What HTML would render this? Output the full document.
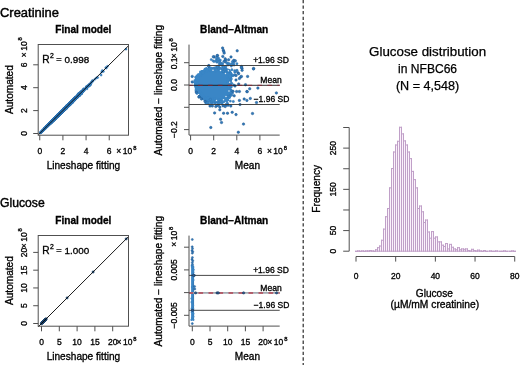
<!DOCTYPE html>
<html><head><meta charset="utf-8"><style>
html,body{margin:0;padding:0;background:#fff;}
svg{display:block;will-change:transform;}
text{font-family:"Liberation Sans", sans-serif;stroke:#000;stroke-width:0.32px;font-variant-ligatures:none;}
</style></head><body>
<svg width="520" height="365" viewBox="0 0 520 365">
<rect width="520" height="365" fill="#fff"/>
<text x="0.00" y="17.20" font-size="12.6" text-anchor="start" font-weight="normal" fill="#000" textLength="59" lengthAdjust="spacingAndGlyphs" style="stroke-width:0.42px">Creatinine</text>
<text x="0.00" y="207.00" font-size="12.6" text-anchor="start" font-weight="normal" fill="#000" textLength="44.7" lengthAdjust="spacingAndGlyphs" style="stroke-width:0.42px">Glucose</text>
<text x="83.40" y="33.00" font-size="10.1" text-anchor="middle" font-weight="bold" fill="#000" >Final model</text>
<text transform="translate(12.90,89.60) rotate(-90)" font-size="10.1" text-anchor="middle" font-weight="normal" fill="#000" >Automated</text>
<text x="83.40" y="168.80" font-size="10.1" text-anchor="middle" font-weight="normal" fill="#000" >Lineshape fitting</text>
<g fill="#3a86c6" stroke="#2566a2" stroke-width="0.3">
<circle cx="62.9" cy="110.8" r="1.1"/>
<circle cx="66.0" cy="108.0" r="1.1"/>
<circle cx="60.1" cy="114.2" r="1.1"/>
<circle cx="53.6" cy="120.3" r="1.1"/>
<circle cx="58.2" cy="115.1" r="1.1"/>
<circle cx="52.6" cy="120.9" r="1.1"/>
<circle cx="63.5" cy="109.9" r="1.1"/>
<circle cx="76.9" cy="97.5" r="1.1"/>
<circle cx="57.8" cy="115.8" r="1.1"/>
<circle cx="56.4" cy="117.1" r="1.1"/>
<circle cx="68.0" cy="106.3" r="1.1"/>
<circle cx="66.6" cy="107.7" r="1.1"/>
<circle cx="64.0" cy="109.3" r="1.1"/>
<circle cx="53.2" cy="120.2" r="1.1"/>
<circle cx="62.6" cy="111.3" r="1.1"/>
<circle cx="70.2" cy="103.5" r="1.1"/>
<circle cx="48.9" cy="124.3" r="1.1"/>
<circle cx="58.1" cy="114.7" r="1.1"/>
<circle cx="43.1" cy="130.3" r="1.1"/>
<circle cx="49.5" cy="123.7" r="1.1"/>
<circle cx="43.7" cy="129.2" r="1.1"/>
<circle cx="60.5" cy="113.0" r="1.1"/>
<circle cx="49.7" cy="123.3" r="1.1"/>
<circle cx="65.7" cy="109.0" r="1.1"/>
<circle cx="64.5" cy="108.3" r="1.1"/>
<circle cx="61.0" cy="112.5" r="1.1"/>
<circle cx="57.3" cy="116.8" r="1.1"/>
<circle cx="62.4" cy="110.8" r="1.1"/>
<circle cx="64.1" cy="109.0" r="1.1"/>
<circle cx="47.0" cy="126.1" r="1.1"/>
<circle cx="57.9" cy="115.1" r="1.1"/>
<circle cx="52.7" cy="120.7" r="1.1"/>
<circle cx="54.5" cy="119.2" r="1.1"/>
<circle cx="74.0" cy="100.0" r="1.1"/>
<circle cx="54.5" cy="118.9" r="1.1"/>
<circle cx="62.6" cy="110.8" r="1.1"/>
<circle cx="72.1" cy="101.8" r="1.1"/>
<circle cx="56.8" cy="116.6" r="1.1"/>
<circle cx="61.7" cy="111.4" r="1.1"/>
<circle cx="64.1" cy="109.3" r="1.1"/>
<circle cx="63.6" cy="109.0" r="1.1"/>
<circle cx="50.1" cy="122.7" r="1.1"/>
<circle cx="63.7" cy="110.3" r="1.1"/>
<circle cx="77.1" cy="97.0" r="1.1"/>
<circle cx="46.8" cy="126.8" r="1.1"/>
<circle cx="71.9" cy="102.4" r="1.1"/>
<circle cx="64.2" cy="109.1" r="1.1"/>
<circle cx="56.2" cy="117.6" r="1.1"/>
<circle cx="83.8" cy="90.8" r="1.1"/>
<circle cx="70.9" cy="102.9" r="1.1"/>
<circle cx="50.4" cy="122.8" r="1.1"/>
<circle cx="63.7" cy="110.0" r="1.1"/>
<circle cx="68.9" cy="104.9" r="1.1"/>
<circle cx="60.9" cy="112.2" r="1.1"/>
<circle cx="70.0" cy="103.3" r="1.1"/>
<circle cx="62.2" cy="111.1" r="1.1"/>
<circle cx="69.9" cy="103.2" r="1.1"/>
<circle cx="77.9" cy="96.4" r="1.1"/>
<circle cx="55.9" cy="117.5" r="1.1"/>
<circle cx="65.0" cy="108.8" r="1.1"/>
<circle cx="58.1" cy="115.0" r="1.1"/>
<circle cx="64.2" cy="108.9" r="1.1"/>
<circle cx="50.5" cy="123.1" r="1.1"/>
<circle cx="56.9" cy="116.1" r="1.1"/>
<circle cx="60.9" cy="113.1" r="1.1"/>
<circle cx="72.3" cy="100.7" r="1.1"/>
<circle cx="74.8" cy="98.7" r="1.1"/>
<circle cx="49.1" cy="124.5" r="1.1"/>
<circle cx="54.6" cy="119.2" r="1.1"/>
<circle cx="69.7" cy="104.1" r="1.1"/>
<circle cx="42.1" cy="131.1" r="1.1"/>
<circle cx="58.1" cy="115.6" r="1.1"/>
<circle cx="61.9" cy="111.4" r="1.1"/>
<circle cx="76.0" cy="98.5" r="1.1"/>
<circle cx="70.1" cy="103.5" r="1.1"/>
<circle cx="59.5" cy="114.0" r="1.1"/>
<circle cx="59.1" cy="115.1" r="1.1"/>
<circle cx="60.3" cy="113.1" r="1.1"/>
<circle cx="78.8" cy="95.7" r="1.1"/>
<circle cx="58.4" cy="115.9" r="1.1"/>
<circle cx="59.7" cy="114.0" r="1.1"/>
<circle cx="66.6" cy="107.1" r="1.1"/>
<circle cx="61.7" cy="111.5" r="1.1"/>
<circle cx="60.9" cy="112.8" r="1.1"/>
<circle cx="51.3" cy="121.7" r="1.1"/>
<circle cx="62.8" cy="110.1" r="1.1"/>
<circle cx="58.3" cy="114.8" r="1.1"/>
<circle cx="75.1" cy="97.8" r="1.1"/>
<circle cx="69.7" cy="103.7" r="1.1"/>
<circle cx="62.7" cy="111.1" r="1.1"/>
<circle cx="69.9" cy="103.4" r="1.1"/>
<circle cx="59.4" cy="113.7" r="1.1"/>
<circle cx="73.9" cy="99.6" r="1.1"/>
<circle cx="62.9" cy="110.8" r="1.1"/>
<circle cx="69.0" cy="105.4" r="1.1"/>
<circle cx="49.5" cy="123.7" r="1.1"/>
<circle cx="66.5" cy="106.9" r="1.1"/>
<circle cx="45.3" cy="128.2" r="1.1"/>
<circle cx="41.7" cy="131.6" r="1.1"/>
<circle cx="59.7" cy="113.5" r="1.1"/>
<circle cx="53.5" cy="119.9" r="1.1"/>
<circle cx="64.6" cy="108.6" r="1.1"/>
<circle cx="86.3" cy="86.9" r="1.1"/>
<circle cx="54.2" cy="119.6" r="1.1"/>
<circle cx="56.4" cy="117.1" r="1.1"/>
<circle cx="65.1" cy="108.3" r="1.1"/>
<circle cx="68.0" cy="105.1" r="1.1"/>
<circle cx="61.1" cy="111.9" r="1.1"/>
<circle cx="60.8" cy="113.5" r="1.1"/>
<circle cx="70.2" cy="103.4" r="1.1"/>
<circle cx="68.3" cy="104.9" r="1.1"/>
<circle cx="52.1" cy="120.9" r="1.1"/>
<circle cx="62.1" cy="110.7" r="1.1"/>
<circle cx="63.3" cy="110.7" r="1.1"/>
<circle cx="51.9" cy="121.6" r="1.1"/>
<circle cx="65.6" cy="108.4" r="1.1"/>
<circle cx="54.0" cy="119.2" r="1.1"/>
<circle cx="73.0" cy="101.4" r="1.1"/>
<circle cx="64.9" cy="108.1" r="1.1"/>
<circle cx="63.8" cy="109.3" r="1.1"/>
<circle cx="56.8" cy="116.5" r="1.1"/>
<circle cx="61.7" cy="112.7" r="1.1"/>
<circle cx="42.1" cy="131.3" r="1.1"/>
<circle cx="51.1" cy="122.1" r="1.1"/>
<circle cx="66.7" cy="107.6" r="1.1"/>
<circle cx="40.7" cy="132.6" r="1.1"/>
<circle cx="71.7" cy="102.0" r="1.1"/>
<circle cx="44.7" cy="128.4" r="1.1"/>
<circle cx="70.8" cy="102.7" r="1.1"/>
<circle cx="54.1" cy="119.2" r="1.1"/>
<circle cx="71.0" cy="102.8" r="1.1"/>
<circle cx="64.3" cy="109.3" r="1.1"/>
<circle cx="46.9" cy="126.5" r="1.1"/>
<circle cx="75.9" cy="97.3" r="1.1"/>
<circle cx="77.9" cy="95.9" r="1.1"/>
<circle cx="62.2" cy="110.9" r="1.1"/>
<circle cx="60.1" cy="114.1" r="1.1"/>
<circle cx="61.2" cy="111.8" r="1.1"/>
<circle cx="52.7" cy="120.7" r="1.1"/>
<circle cx="74.4" cy="98.6" r="1.1"/>
<circle cx="57.3" cy="116.2" r="1.1"/>
<circle cx="62.4" cy="110.8" r="1.1"/>
<circle cx="54.6" cy="118.3" r="1.1"/>
<circle cx="56.4" cy="117.3" r="1.1"/>
<circle cx="49.6" cy="123.8" r="1.1"/>
<circle cx="76.0" cy="97.8" r="1.1"/>
<circle cx="61.3" cy="112.1" r="1.1"/>
<circle cx="73.0" cy="101.6" r="1.1"/>
<circle cx="63.0" cy="110.6" r="1.1"/>
<circle cx="55.7" cy="117.8" r="1.1"/>
<circle cx="59.5" cy="114.3" r="1.1"/>
<circle cx="57.1" cy="116.5" r="1.1"/>
<circle cx="63.0" cy="111.2" r="1.1"/>
<circle cx="59.0" cy="114.0" r="1.1"/>
<circle cx="59.8" cy="113.5" r="1.1"/>
<circle cx="48.5" cy="124.4" r="1.1"/>
<circle cx="54.5" cy="119.2" r="1.1"/>
<circle cx="80.1" cy="94.4" r="1.1"/>
<circle cx="55.9" cy="117.4" r="1.1"/>
<circle cx="51.9" cy="121.9" r="1.1"/>
<circle cx="66.4" cy="107.0" r="1.1"/>
<circle cx="77.6" cy="96.6" r="1.1"/>
<circle cx="47.8" cy="125.7" r="1.1"/>
<circle cx="60.7" cy="112.7" r="1.1"/>
<circle cx="56.3" cy="117.1" r="1.1"/>
<circle cx="44.6" cy="128.4" r="1.1"/>
<circle cx="70.6" cy="102.7" r="1.1"/>
<circle cx="62.7" cy="111.4" r="1.1"/>
<circle cx="63.7" cy="109.4" r="1.1"/>
<circle cx="55.1" cy="118.8" r="1.1"/>
<circle cx="67.6" cy="105.9" r="1.1"/>
<circle cx="57.3" cy="116.6" r="1.1"/>
<circle cx="61.4" cy="112.4" r="1.1"/>
<circle cx="51.4" cy="121.7" r="1.1"/>
<circle cx="50.2" cy="123.3" r="1.1"/>
<circle cx="76.8" cy="97.3" r="1.1"/>
<circle cx="57.6" cy="116.0" r="1.1"/>
<circle cx="65.9" cy="107.8" r="1.1"/>
<circle cx="62.6" cy="110.4" r="1.1"/>
<circle cx="58.3" cy="115.6" r="1.1"/>
<circle cx="57.6" cy="116.3" r="1.1"/>
<circle cx="69.5" cy="103.8" r="1.1"/>
<circle cx="59.8" cy="114.3" r="1.1"/>
<circle cx="61.3" cy="112.3" r="1.1"/>
<circle cx="63.1" cy="109.9" r="1.1"/>
<circle cx="75.2" cy="98.5" r="1.1"/>
<circle cx="70.0" cy="103.9" r="1.1"/>
<circle cx="66.9" cy="107.0" r="1.1"/>
<circle cx="57.0" cy="116.7" r="1.1"/>
<circle cx="48.5" cy="125.0" r="1.1"/>
<circle cx="72.8" cy="100.8" r="1.1"/>
<circle cx="73.0" cy="100.0" r="1.1"/>
<circle cx="61.4" cy="111.7" r="1.1"/>
<circle cx="68.6" cy="105.3" r="1.1"/>
<circle cx="71.1" cy="103.0" r="1.1"/>
<circle cx="71.6" cy="101.7" r="1.1"/>
<circle cx="72.5" cy="102.1" r="1.1"/>
<circle cx="58.2" cy="115.5" r="1.1"/>
<circle cx="78.7" cy="95.2" r="1.1"/>
<circle cx="49.9" cy="123.7" r="1.1"/>
<circle cx="71.9" cy="102.3" r="1.1"/>
<circle cx="68.1" cy="105.4" r="1.1"/>
<circle cx="72.0" cy="102.5" r="1.1"/>
<circle cx="82.5" cy="91.9" r="1.1"/>
<circle cx="78.4" cy="95.8" r="1.1"/>
<circle cx="51.0" cy="122.4" r="1.1"/>
<circle cx="45.3" cy="128.3" r="1.1"/>
<circle cx="71.4" cy="101.6" r="1.1"/>
<circle cx="52.3" cy="121.2" r="1.1"/>
<circle cx="62.8" cy="110.9" r="1.1"/>
<circle cx="71.7" cy="102.2" r="1.1"/>
<circle cx="45.8" cy="127.7" r="1.1"/>
<circle cx="40.9" cy="132.5" r="1.1"/>
<circle cx="65.6" cy="107.4" r="1.1"/>
<circle cx="63.4" cy="110.1" r="1.1"/>
<circle cx="60.3" cy="113.2" r="1.1"/>
<circle cx="63.3" cy="109.8" r="1.1"/>
<circle cx="53.9" cy="119.7" r="1.1"/>
<circle cx="47.1" cy="126.1" r="1.1"/>
<circle cx="61.2" cy="112.3" r="1.1"/>
<circle cx="52.8" cy="120.9" r="1.1"/>
<circle cx="45.8" cy="127.4" r="1.1"/>
<circle cx="68.2" cy="106.2" r="1.1"/>
<circle cx="62.3" cy="111.0" r="1.1"/>
<circle cx="67.1" cy="106.9" r="1.1"/>
<circle cx="52.6" cy="120.7" r="1.1"/>
<circle cx="56.1" cy="116.9" r="1.1"/>
<circle cx="52.5" cy="120.8" r="1.1"/>
<circle cx="53.7" cy="119.9" r="1.1"/>
<circle cx="64.9" cy="108.6" r="1.1"/>
<circle cx="54.7" cy="118.8" r="1.1"/>
<circle cx="66.6" cy="107.5" r="1.1"/>
<circle cx="66.5" cy="107.7" r="1.1"/>
<circle cx="84.0" cy="89.8" r="1.1"/>
<circle cx="48.4" cy="124.8" r="1.1"/>
<circle cx="72.2" cy="102.5" r="1.1"/>
<circle cx="62.0" cy="111.6" r="1.1"/>
<circle cx="62.8" cy="110.6" r="1.1"/>
<circle cx="47.8" cy="125.5" r="1.1"/>
<circle cx="58.1" cy="115.7" r="1.1"/>
<circle cx="70.7" cy="102.4" r="1.1"/>
<circle cx="62.1" cy="112.0" r="1.1"/>
<circle cx="63.8" cy="109.5" r="1.1"/>
<circle cx="59.9" cy="113.0" r="1.1"/>
<circle cx="74.9" cy="100.0" r="1.1"/>
<circle cx="62.7" cy="110.7" r="1.1"/>
<circle cx="55.7" cy="117.7" r="1.1"/>
<circle cx="42.4" cy="130.9" r="1.1"/>
<circle cx="57.4" cy="116.4" r="1.1"/>
<circle cx="76.8" cy="97.1" r="1.1"/>
<circle cx="63.4" cy="110.8" r="1.1"/>
<circle cx="50.7" cy="122.7" r="1.1"/>
<circle cx="53.1" cy="120.2" r="1.1"/>
<circle cx="74.7" cy="99.4" r="1.1"/>
<circle cx="64.6" cy="109.4" r="1.1"/>
<circle cx="63.4" cy="110.4" r="1.1"/>
<circle cx="62.4" cy="111.2" r="1.1"/>
<circle cx="63.3" cy="110.2" r="1.1"/>
<circle cx="71.3" cy="102.4" r="1.1"/>
<circle cx="68.7" cy="104.9" r="1.1"/>
<circle cx="65.2" cy="109.0" r="1.1"/>
<circle cx="52.0" cy="122.1" r="1.1"/>
<circle cx="68.2" cy="105.1" r="1.1"/>
<circle cx="55.8" cy="117.2" r="1.1"/>
<circle cx="74.3" cy="100.2" r="1.1"/>
<circle cx="49.7" cy="123.9" r="1.1"/>
<circle cx="61.5" cy="111.9" r="1.1"/>
<circle cx="62.8" cy="110.3" r="1.1"/>
<circle cx="49.1" cy="124.1" r="1.1"/>
<circle cx="80.9" cy="92.1" r="1.1"/>
<circle cx="78.1" cy="95.6" r="1.1"/>
<circle cx="58.1" cy="115.3" r="1.1"/>
<circle cx="71.0" cy="102.5" r="1.1"/>
<circle cx="66.9" cy="107.0" r="1.1"/>
<circle cx="65.5" cy="107.5" r="1.1"/>
<circle cx="62.3" cy="111.0" r="1.1"/>
<circle cx="63.8" cy="109.4" r="1.1"/>
<circle cx="51.7" cy="121.8" r="1.1"/>
<circle cx="60.1" cy="113.0" r="1.1"/>
<circle cx="61.1" cy="112.9" r="1.1"/>
<circle cx="75.3" cy="98.2" r="1.1"/>
<circle cx="66.4" cy="108.4" r="1.1"/>
<circle cx="62.9" cy="111.1" r="1.1"/>
<circle cx="78.8" cy="94.4" r="1.1"/>
<circle cx="57.1" cy="116.5" r="1.1"/>
<circle cx="58.9" cy="114.6" r="1.1"/>
<circle cx="44.0" cy="129.6" r="1.1"/>
<circle cx="79.3" cy="93.5" r="1.1"/>
<circle cx="73.0" cy="100.4" r="1.1"/>
<circle cx="72.5" cy="101.2" r="1.1"/>
<circle cx="69.9" cy="103.5" r="1.1"/>
<circle cx="64.1" cy="109.4" r="1.1"/>
<circle cx="65.2" cy="107.8" r="1.1"/>
<circle cx="60.3" cy="113.2" r="1.1"/>
<circle cx="60.8" cy="113.3" r="1.1"/>
<circle cx="63.5" cy="110.2" r="1.1"/>
<circle cx="78.7" cy="94.3" r="1.1"/>
<circle cx="68.7" cy="104.6" r="1.1"/>
<circle cx="62.3" cy="111.4" r="1.1"/>
<circle cx="56.9" cy="116.4" r="1.1"/>
<circle cx="56.3" cy="117.1" r="1.1"/>
<circle cx="79.6" cy="93.8" r="1.1"/>
<circle cx="68.2" cy="106.2" r="1.1"/>
<circle cx="63.6" cy="110.3" r="1.1"/>
<circle cx="59.3" cy="114.0" r="1.1"/>
<circle cx="51.4" cy="122.1" r="1.1"/>
<circle cx="62.2" cy="111.2" r="1.1"/>
<circle cx="72.0" cy="100.6" r="1.1"/>
<circle cx="58.8" cy="114.8" r="1.1"/>
<circle cx="60.5" cy="112.9" r="1.1"/>
<circle cx="60.6" cy="113.1" r="1.1"/>
<circle cx="64.1" cy="109.8" r="1.1"/>
<circle cx="46.3" cy="127.1" r="1.1"/>
<circle cx="60.5" cy="113.6" r="1.1"/>
<circle cx="54.0" cy="120.1" r="1.1"/>
<circle cx="72.1" cy="100.8" r="1.1"/>
<circle cx="54.9" cy="118.6" r="1.1"/>
<circle cx="68.9" cy="104.1" r="1.1"/>
<circle cx="78.8" cy="94.9" r="1.1"/>
<circle cx="59.6" cy="113.8" r="1.1"/>
<circle cx="56.6" cy="116.6" r="1.1"/>
<circle cx="64.9" cy="108.3" r="1.1"/>
<circle cx="62.9" cy="111.2" r="1.1"/>
<circle cx="52.6" cy="120.5" r="1.1"/>
<circle cx="67.7" cy="106.4" r="1.1"/>
<circle cx="83.9" cy="89.8" r="1.1"/>
<circle cx="60.2" cy="112.3" r="1.1"/>
<circle cx="60.8" cy="112.7" r="1.1"/>
<circle cx="52.0" cy="120.9" r="1.1"/>
<circle cx="66.2" cy="107.5" r="1.1"/>
<circle cx="49.9" cy="123.3" r="1.1"/>
<circle cx="51.4" cy="122.0" r="1.1"/>
<circle cx="76.2" cy="97.2" r="1.1"/>
<circle cx="53.5" cy="120.2" r="1.1"/>
<circle cx="74.2" cy="100.0" r="1.1"/>
<circle cx="78.8" cy="94.7" r="1.1"/>
<circle cx="65.6" cy="108.7" r="1.1"/>
<circle cx="68.7" cy="105.4" r="1.1"/>
<circle cx="83.3" cy="90.1" r="1.1"/>
<circle cx="60.9" cy="112.9" r="1.1"/>
<circle cx="56.7" cy="117.0" r="1.1"/>
<circle cx="48.8" cy="124.8" r="1.1"/>
<circle cx="63.3" cy="110.2" r="1.1"/>
<circle cx="78.3" cy="95.7" r="1.1"/>
<circle cx="72.9" cy="100.7" r="1.1"/>
<circle cx="53.1" cy="120.4" r="1.1"/>
<circle cx="54.0" cy="118.9" r="1.1"/>
<circle cx="57.7" cy="116.0" r="1.1"/>
<circle cx="66.0" cy="108.5" r="1.1"/>
<circle cx="60.8" cy="112.7" r="1.1"/>
<circle cx="65.1" cy="108.4" r="1.1"/>
<circle cx="66.0" cy="107.5" r="1.1"/>
<circle cx="59.8" cy="114.3" r="1.1"/>
<circle cx="62.5" cy="110.6" r="1.1"/>
<circle cx="65.1" cy="108.5" r="1.1"/>
<circle cx="62.0" cy="111.5" r="1.1"/>
<circle cx="68.2" cy="106.2" r="1.1"/>
<circle cx="82.4" cy="91.1" r="1.1"/>
<circle cx="69.1" cy="104.6" r="1.1"/>
<circle cx="63.5" cy="109.5" r="1.1"/>
<circle cx="45.3" cy="128.1" r="1.1"/>
<circle cx="67.0" cy="107.2" r="1.1"/>
<circle cx="42.6" cy="130.7" r="1.1"/>
<circle cx="48.2" cy="125.3" r="1.1"/>
<circle cx="71.8" cy="101.6" r="1.1"/>
<circle cx="70.3" cy="103.9" r="1.1"/>
<circle cx="61.3" cy="112.2" r="1.1"/>
<circle cx="45.1" cy="128.3" r="1.1"/>
<circle cx="59.0" cy="114.5" r="1.1"/>
<circle cx="55.8" cy="117.8" r="1.1"/>
<circle cx="69.5" cy="104.5" r="1.1"/>
<circle cx="86.4" cy="87.5" r="1.1"/>
<circle cx="65.2" cy="108.7" r="1.1"/>
<circle cx="54.8" cy="118.6" r="1.1"/>
<circle cx="50.7" cy="122.8" r="1.1"/>
<circle cx="62.3" cy="112.2" r="1.1"/>
<circle cx="61.1" cy="112.5" r="1.1"/>
<circle cx="50.9" cy="122.1" r="1.1"/>
<circle cx="64.1" cy="109.3" r="1.1"/>
<circle cx="50.9" cy="122.3" r="1.1"/>
<circle cx="74.5" cy="98.9" r="1.1"/>
<circle cx="74.0" cy="100.0" r="1.1"/>
<circle cx="74.2" cy="100.2" r="1.1"/>
<circle cx="58.0" cy="115.2" r="1.1"/>
<circle cx="68.3" cy="104.8" r="1.1"/>
<circle cx="61.5" cy="111.8" r="1.1"/>
<circle cx="58.9" cy="114.5" r="1.1"/>
<circle cx="59.4" cy="114.0" r="1.1"/>
<circle cx="49.4" cy="124.0" r="1.1"/>
<circle cx="47.9" cy="125.4" r="1.1"/>
<circle cx="71.2" cy="102.5" r="1.1"/>
<circle cx="60.9" cy="112.5" r="1.1"/>
<circle cx="65.2" cy="108.8" r="1.1"/>
<circle cx="73.3" cy="100.7" r="1.1"/>
<circle cx="44.8" cy="128.4" r="1.1"/>
<circle cx="54.7" cy="118.8" r="1.1"/>
<circle cx="64.7" cy="109.9" r="1.1"/>
<circle cx="67.0" cy="106.5" r="1.1"/>
<circle cx="59.0" cy="115.4" r="1.1"/>
<circle cx="73.6" cy="99.0" r="1.1"/>
<circle cx="65.1" cy="108.2" r="1.1"/>
<circle cx="50.3" cy="123.0" r="1.1"/>
<circle cx="53.2" cy="120.4" r="1.1"/>
<circle cx="71.3" cy="103.0" r="1.1"/>
<circle cx="67.7" cy="106.0" r="1.1"/>
<circle cx="43.1" cy="130.2" r="1.1"/>
<circle cx="77.0" cy="97.2" r="1.1"/>
<circle cx="69.1" cy="104.4" r="1.1"/>
<circle cx="76.9" cy="96.4" r="1.1"/>
<circle cx="58.9" cy="114.4" r="1.1"/>
<circle cx="59.8" cy="114.1" r="1.1"/>
<circle cx="51.2" cy="122.8" r="1.1"/>
<circle cx="89.3" cy="84.5" r="1.1"/>
<circle cx="61.1" cy="112.7" r="1.1"/>
<circle cx="79.5" cy="94.0" r="1.1"/>
<circle cx="56.2" cy="116.8" r="1.1"/>
<circle cx="64.6" cy="108.2" r="1.1"/>
<circle cx="45.5" cy="127.8" r="1.1"/>
<circle cx="58.9" cy="114.2" r="1.1"/>
<circle cx="73.2" cy="99.6" r="1.1"/>
<circle cx="49.9" cy="123.5" r="1.1"/>
<circle cx="74.1" cy="99.4" r="1.1"/>
<circle cx="66.4" cy="106.8" r="1.1"/>
<circle cx="52.0" cy="121.4" r="1.1"/>
<circle cx="57.7" cy="116.0" r="1.1"/>
<circle cx="58.1" cy="115.6" r="1.1"/>
<circle cx="62.4" cy="111.1" r="1.1"/>
<circle cx="57.3" cy="116.4" r="1.1"/>
<circle cx="54.3" cy="118.9" r="1.1"/>
<circle cx="59.7" cy="113.9" r="1.1"/>
<circle cx="52.2" cy="120.8" r="1.1"/>
<circle cx="49.5" cy="123.6" r="1.1"/>
<circle cx="62.4" cy="111.6" r="1.1"/>
<circle cx="72.1" cy="101.0" r="1.1"/>
<circle cx="47.0" cy="126.5" r="1.1"/>
<circle cx="62.9" cy="110.0" r="1.1"/>
<circle cx="56.1" cy="117.2" r="1.1"/>
<circle cx="52.7" cy="120.7" r="1.1"/>
<circle cx="71.8" cy="101.5" r="1.1"/>
<circle cx="57.5" cy="116.2" r="1.1"/>
<circle cx="78.5" cy="95.0" r="1.1"/>
<circle cx="54.8" cy="118.5" r="1.1"/>
<circle cx="66.9" cy="106.7" r="1.1"/>
<circle cx="60.5" cy="112.8" r="1.1"/>
<circle cx="55.1" cy="118.7" r="1.1"/>
<circle cx="69.0" cy="104.3" r="1.1"/>
<circle cx="61.3" cy="112.7" r="1.1"/>
<circle cx="69.2" cy="104.1" r="1.1"/>
<circle cx="62.4" cy="110.9" r="1.1"/>
<circle cx="51.6" cy="121.6" r="1.1"/>
<circle cx="61.8" cy="111.9" r="1.1"/>
<circle cx="63.5" cy="108.9" r="1.1"/>
<circle cx="72.9" cy="100.9" r="1.1"/>
<circle cx="53.5" cy="119.9" r="1.1"/>
<circle cx="62.5" cy="111.3" r="1.1"/>
<circle cx="45.0" cy="128.1" r="1.1"/>
<circle cx="69.7" cy="104.2" r="1.1"/>
<circle cx="51.6" cy="121.5" r="1.1"/>
<circle cx="44.1" cy="129.4" r="1.1"/>
<circle cx="62.3" cy="111.1" r="1.1"/>
<circle cx="74.4" cy="99.5" r="1.1"/>
<circle cx="47.0" cy="126.1" r="1.1"/>
<circle cx="51.6" cy="121.9" r="1.1"/>
<circle cx="55.2" cy="118.5" r="1.1"/>
<circle cx="51.1" cy="122.1" r="1.1"/>
<circle cx="66.9" cy="107.3" r="1.1"/>
<circle cx="54.5" cy="119.2" r="1.1"/>
<circle cx="55.4" cy="117.8" r="1.1"/>
<circle cx="69.0" cy="105.5" r="1.1"/>
<circle cx="55.0" cy="118.2" r="1.1"/>
<circle cx="67.4" cy="106.4" r="1.1"/>
<circle cx="52.8" cy="120.9" r="1.1"/>
<circle cx="50.3" cy="123.0" r="1.1"/>
<circle cx="43.8" cy="129.4" r="1.1"/>
<circle cx="82.3" cy="91.8" r="1.1"/>
<circle cx="59.6" cy="114.0" r="1.1"/>
<circle cx="65.5" cy="107.8" r="1.1"/>
<circle cx="62.6" cy="110.6" r="1.1"/>
<circle cx="64.6" cy="109.0" r="1.1"/>
<circle cx="63.4" cy="110.4" r="1.1"/>
<circle cx="82.8" cy="91.6" r="1.1"/>
<circle cx="52.1" cy="121.5" r="1.1"/>
<circle cx="46.7" cy="126.5" r="1.1"/>
<circle cx="52.4" cy="120.9" r="1.1"/>
<circle cx="49.0" cy="124.3" r="1.1"/>
<circle cx="70.7" cy="102.2" r="1.1"/>
<circle cx="71.5" cy="102.3" r="1.1"/>
<circle cx="52.9" cy="120.6" r="1.1"/>
<circle cx="48.4" cy="125.0" r="1.1"/>
<circle cx="59.2" cy="113.6" r="1.1"/>
<circle cx="77.4" cy="97.5" r="1.1"/>
<circle cx="68.4" cy="105.1" r="1.1"/>
<circle cx="51.7" cy="121.6" r="1.1"/>
<circle cx="73.8" cy="99.9" r="1.1"/>
<circle cx="51.7" cy="121.1" r="1.1"/>
<circle cx="59.9" cy="113.1" r="1.1"/>
<circle cx="47.2" cy="126.0" r="1.1"/>
<circle cx="52.7" cy="120.9" r="1.1"/>
<circle cx="77.4" cy="96.0" r="1.1"/>
<circle cx="71.5" cy="102.4" r="1.1"/>
<circle cx="58.7" cy="114.7" r="1.1"/>
<circle cx="53.8" cy="119.5" r="1.1"/>
<circle cx="43.2" cy="130.2" r="1.1"/>
<circle cx="58.8" cy="114.4" r="1.1"/>
<circle cx="62.6" cy="110.3" r="1.1"/>
<circle cx="62.0" cy="111.1" r="1.1"/>
<circle cx="61.9" cy="111.5" r="1.1"/>
<circle cx="51.2" cy="122.7" r="1.1"/>
<circle cx="62.2" cy="110.9" r="1.1"/>
<circle cx="62.5" cy="110.6" r="1.1"/>
<circle cx="76.4" cy="97.4" r="1.1"/>
<circle cx="82.4" cy="91.7" r="1.1"/>
<circle cx="61.5" cy="111.8" r="1.1"/>
<circle cx="54.9" cy="118.8" r="1.1"/>
<circle cx="62.2" cy="111.0" r="1.1"/>
<circle cx="56.6" cy="117.2" r="1.1"/>
<circle cx="55.2" cy="118.5" r="1.1"/>
<circle cx="62.3" cy="111.2" r="1.1"/>
<circle cx="52.0" cy="121.7" r="1.1"/>
<circle cx="69.2" cy="104.4" r="1.1"/>
<circle cx="61.8" cy="111.5" r="1.1"/>
<circle cx="65.5" cy="108.6" r="1.1"/>
<circle cx="61.0" cy="112.1" r="1.1"/>
<circle cx="55.3" cy="118.3" r="1.1"/>
<circle cx="53.0" cy="120.2" r="1.1"/>
<circle cx="60.4" cy="113.0" r="1.1"/>
<circle cx="57.2" cy="116.4" r="1.1"/>
<circle cx="65.3" cy="108.4" r="1.1"/>
<circle cx="62.9" cy="111.3" r="1.1"/>
<circle cx="48.7" cy="124.8" r="1.1"/>
<circle cx="63.6" cy="110.2" r="1.1"/>
<circle cx="48.9" cy="124.1" r="1.1"/>
<circle cx="56.5" cy="116.6" r="1.1"/>
<circle cx="59.8" cy="114.1" r="1.1"/>
<circle cx="41.3" cy="131.9" r="1.1"/>
<circle cx="63.9" cy="109.6" r="1.1"/>
<circle cx="64.5" cy="109.2" r="1.1"/>
<circle cx="61.3" cy="112.1" r="1.1"/>
<circle cx="58.5" cy="114.7" r="1.1"/>
<circle cx="59.0" cy="114.7" r="1.1"/>
<circle cx="52.7" cy="120.7" r="1.1"/>
<circle cx="60.1" cy="113.3" r="1.1"/>
<circle cx="57.2" cy="116.6" r="1.1"/>
<circle cx="63.9" cy="109.6" r="1.1"/>
<circle cx="50.4" cy="123.0" r="1.1"/>
<circle cx="65.4" cy="108.5" r="1.1"/>
<circle cx="64.4" cy="109.5" r="1.1"/>
<circle cx="61.4" cy="111.9" r="1.1"/>
<circle cx="58.3" cy="114.8" r="1.1"/>
<circle cx="68.7" cy="104.8" r="1.1"/>
<circle cx="45.6" cy="127.9" r="1.1"/>
<circle cx="67.7" cy="105.5" r="1.1"/>
<circle cx="65.4" cy="108.0" r="1.1"/>
<circle cx="65.9" cy="107.4" r="1.1"/>
<circle cx="66.9" cy="106.1" r="1.1"/>
<circle cx="56.1" cy="117.6" r="1.1"/>
<circle cx="60.2" cy="113.3" r="1.1"/>
<circle cx="69.5" cy="104.3" r="1.1"/>
<circle cx="67.4" cy="106.6" r="1.1"/>
<circle cx="65.1" cy="107.6" r="1.1"/>
<circle cx="47.1" cy="126.0" r="1.1"/>
<circle cx="68.5" cy="105.9" r="1.1"/>
<circle cx="75.1" cy="98.3" r="1.1"/>
<circle cx="73.4" cy="100.5" r="1.1"/>
<circle cx="65.3" cy="107.7" r="1.1"/>
<circle cx="46.7" cy="126.6" r="1.1"/>
<circle cx="72.7" cy="101.0" r="1.1"/>
<circle cx="61.4" cy="112.1" r="1.1"/>
<circle cx="66.8" cy="106.5" r="1.1"/>
<circle cx="47.4" cy="126.0" r="1.1"/>
<circle cx="49.4" cy="124.0" r="1.1"/>
<circle cx="56.3" cy="117.2" r="1.1"/>
<circle cx="76.2" cy="97.2" r="1.1"/>
<circle cx="59.0" cy="114.8" r="1.1"/>
<circle cx="65.7" cy="107.8" r="1.1"/>
<circle cx="81.1" cy="92.7" r="1.1"/>
<circle cx="79.5" cy="94.5" r="1.1"/>
<circle cx="61.8" cy="111.4" r="1.1"/>
<circle cx="60.4" cy="113.6" r="1.1"/>
<circle cx="49.8" cy="123.7" r="1.1"/>
<circle cx="55.7" cy="118.0" r="1.1"/>
<circle cx="67.3" cy="106.0" r="1.1"/>
<circle cx="67.0" cy="106.7" r="1.1"/>
<circle cx="64.1" cy="109.4" r="1.1"/>
<circle cx="73.3" cy="100.1" r="1.1"/>
<circle cx="54.9" cy="119.0" r="1.1"/>
<circle cx="62.3" cy="111.0" r="1.1"/>
<circle cx="70.5" cy="103.4" r="1.1"/>
<circle cx="69.0" cy="104.7" r="1.1"/>
<circle cx="74.1" cy="99.6" r="1.1"/>
<circle cx="67.0" cy="106.1" r="1.1"/>
<circle cx="59.7" cy="113.5" r="1.1"/>
<circle cx="66.7" cy="106.1" r="1.1"/>
<circle cx="52.5" cy="120.9" r="1.1"/>
<circle cx="45.8" cy="127.6" r="1.1"/>
<circle cx="69.0" cy="104.9" r="1.1"/>
<circle cx="62.3" cy="110.9" r="1.1"/>
<circle cx="66.1" cy="106.7" r="1.1"/>
<circle cx="45.2" cy="128.0" r="1.1"/>
<circle cx="59.1" cy="114.6" r="1.1"/>
<circle cx="56.7" cy="116.7" r="1.1"/>
<circle cx="53.9" cy="119.4" r="1.1"/>
<circle cx="59.4" cy="114.0" r="1.1"/>
<circle cx="72.3" cy="101.7" r="1.1"/>
<circle cx="66.9" cy="107.8" r="1.1"/>
<circle cx="56.6" cy="117.0" r="1.1"/>
<circle cx="62.8" cy="110.3" r="1.1"/>
<circle cx="70.8" cy="102.7" r="1.1"/>
<circle cx="61.6" cy="112.7" r="1.1"/>
<circle cx="68.6" cy="105.0" r="1.1"/>
<circle cx="70.0" cy="104.5" r="1.1"/>
<circle cx="80.6" cy="91.8" r="1.1"/>
<circle cx="74.7" cy="98.8" r="1.1"/>
<circle cx="66.2" cy="107.9" r="1.1"/>
<circle cx="66.1" cy="107.1" r="1.1"/>
<circle cx="71.1" cy="102.9" r="1.1"/>
<circle cx="57.3" cy="116.0" r="1.1"/>
<circle cx="62.5" cy="111.0" r="1.1"/>
<circle cx="72.4" cy="101.9" r="1.1"/>
<circle cx="83.3" cy="90.0" r="1.1"/>
<circle cx="61.3" cy="112.8" r="1.1"/>
<circle cx="62.4" cy="110.6" r="1.1"/>
<circle cx="65.0" cy="108.5" r="1.1"/>
<circle cx="76.9" cy="97.4" r="1.1"/>
<circle cx="62.6" cy="111.6" r="1.1"/>
<circle cx="78.2" cy="94.5" r="1.1"/>
<circle cx="52.8" cy="120.2" r="1.1"/>
<circle cx="61.0" cy="113.0" r="1.1"/>
<circle cx="60.8" cy="112.0" r="1.1"/>
<circle cx="71.1" cy="102.4" r="1.1"/>
<circle cx="73.8" cy="99.9" r="1.1"/>
<circle cx="47.2" cy="126.2" r="1.1"/>
<circle cx="53.4" cy="120.1" r="1.1"/>
<circle cx="66.4" cy="106.5" r="1.1"/>
<circle cx="56.0" cy="117.3" r="1.1"/>
<circle cx="47.0" cy="126.7" r="1.1"/>
<circle cx="73.7" cy="98.8" r="1.1"/>
<circle cx="68.1" cy="105.1" r="1.1"/>
<circle cx="68.0" cy="106.0" r="1.1"/>
<circle cx="58.0" cy="115.6" r="1.1"/>
<circle cx="73.6" cy="100.5" r="1.1"/>
<circle cx="60.4" cy="113.1" r="1.1"/>
<circle cx="74.3" cy="99.1" r="1.1"/>
<circle cx="53.4" cy="119.9" r="1.1"/>
<circle cx="54.0" cy="119.6" r="1.1"/>
<circle cx="65.0" cy="108.8" r="1.1"/>
<circle cx="55.6" cy="117.6" r="1.1"/>
<circle cx="69.9" cy="103.7" r="1.1"/>
<circle cx="65.6" cy="106.9" r="1.1"/>
<circle cx="53.3" cy="120.3" r="1.1"/>
<circle cx="63.7" cy="109.5" r="1.1"/>
<circle cx="59.2" cy="114.2" r="1.1"/>
<circle cx="72.5" cy="101.6" r="1.1"/>
<circle cx="56.3" cy="116.7" r="1.1"/>
<circle cx="58.3" cy="115.1" r="1.1"/>
<circle cx="75.5" cy="98.6" r="1.1"/>
<circle cx="86.2" cy="87.8" r="1.1"/>
<circle cx="83.7" cy="89.3" r="1.1"/>
<circle cx="63.6" cy="110.5" r="1.1"/>
<circle cx="65.2" cy="107.7" r="1.1"/>
<circle cx="78.9" cy="94.4" r="1.1"/>
<circle cx="61.6" cy="112.0" r="1.1"/>
<circle cx="52.7" cy="120.3" r="1.1"/>
<circle cx="64.1" cy="108.7" r="1.1"/>
<circle cx="67.6" cy="105.7" r="1.1"/>
<circle cx="54.3" cy="119.1" r="1.1"/>
<circle cx="45.8" cy="127.2" r="1.1"/>
<circle cx="47.9" cy="125.1" r="1.1"/>
<circle cx="69.8" cy="104.2" r="1.1"/>
<circle cx="55.0" cy="118.5" r="1.1"/>
<circle cx="61.4" cy="112.1" r="1.1"/>
<circle cx="65.1" cy="108.6" r="1.1"/>
<circle cx="69.4" cy="105.0" r="1.1"/>
<circle cx="59.4" cy="113.7" r="1.1"/>
<circle cx="68.1" cy="105.4" r="1.1"/>
<circle cx="53.6" cy="119.7" r="1.1"/>
<circle cx="59.1" cy="113.8" r="1.1"/>
<circle cx="52.2" cy="121.3" r="1.1"/>
<circle cx="74.7" cy="99.0" r="1.1"/>
<circle cx="62.6" cy="110.8" r="1.1"/>
<circle cx="55.2" cy="118.4" r="1.1"/>
<circle cx="59.2" cy="114.3" r="1.1"/>
<circle cx="60.6" cy="112.6" r="1.1"/>
<circle cx="70.2" cy="103.4" r="1.1"/>
<circle cx="46.3" cy="126.8" r="1.1"/>
<circle cx="52.1" cy="121.5" r="1.1"/>
<circle cx="59.0" cy="114.4" r="1.1"/>
<circle cx="89.3" cy="85.6" r="1.1"/>
<circle cx="72.9" cy="100.8" r="1.1"/>
<circle cx="61.7" cy="112.0" r="1.1"/>
<circle cx="70.3" cy="102.6" r="1.1"/>
<circle cx="84.4" cy="88.9" r="1.1"/>
<circle cx="60.5" cy="112.8" r="1.1"/>
<circle cx="59.1" cy="113.7" r="1.1"/>
<circle cx="75.5" cy="97.3" r="1.1"/>
<circle cx="68.1" cy="105.2" r="1.1"/>
<circle cx="69.9" cy="104.0" r="1.1"/>
<circle cx="57.6" cy="116.3" r="1.1"/>
<circle cx="83.0" cy="90.8" r="1.1"/>
<circle cx="80.7" cy="93.2" r="1.1"/>
<circle cx="68.8" cy="105.1" r="1.1"/>
<circle cx="70.0" cy="103.7" r="1.1"/>
<circle cx="41.8" cy="131.7" r="1.1"/>
<circle cx="69.6" cy="103.3" r="1.1"/>
<circle cx="60.9" cy="113.0" r="1.1"/>
<circle cx="67.4" cy="106.4" r="1.1"/>
<circle cx="70.0" cy="103.3" r="1.1"/>
<circle cx="59.4" cy="114.7" r="1.1"/>
<circle cx="45.3" cy="127.9" r="1.1"/>
<circle cx="66.7" cy="106.4" r="1.1"/>
<circle cx="55.2" cy="118.3" r="1.1"/>
<circle cx="59.5" cy="114.4" r="1.1"/>
<circle cx="56.6" cy="117.0" r="1.1"/>
<circle cx="59.4" cy="114.8" r="1.1"/>
<circle cx="75.6" cy="97.3" r="1.1"/>
<circle cx="65.6" cy="108.0" r="1.1"/>
<circle cx="74.5" cy="99.6" r="1.1"/>
<circle cx="83.5" cy="90.8" r="1.1"/>
<circle cx="63.1" cy="110.1" r="1.1"/>
<circle cx="44.1" cy="128.9" r="1.1"/>
<circle cx="53.6" cy="120.2" r="1.1"/>
<circle cx="50.3" cy="123.2" r="1.1"/>
<circle cx="57.7" cy="116.4" r="1.1"/>
<circle cx="63.7" cy="109.5" r="1.1"/>
<circle cx="42.0" cy="131.2" r="1.1"/>
<circle cx="66.5" cy="106.0" r="1.1"/>
<circle cx="47.2" cy="126.2" r="1.1"/>
<circle cx="66.0" cy="107.7" r="1.1"/>
<circle cx="61.8" cy="112.0" r="1.1"/>
<circle cx="59.6" cy="113.5" r="1.1"/>
<circle cx="62.1" cy="112.0" r="1.1"/>
<circle cx="57.3" cy="115.9" r="1.1"/>
<circle cx="56.5" cy="116.8" r="1.1"/>
<circle cx="45.4" cy="128.0" r="1.1"/>
<circle cx="62.6" cy="111.3" r="1.1"/>
<circle cx="82.1" cy="90.9" r="1.1"/>
<circle cx="83.6" cy="88.9" r="1.1"/>
<circle cx="76.7" cy="97.2" r="1.1"/>
<circle cx="70.3" cy="103.1" r="1.1"/>
<circle cx="55.9" cy="117.0" r="1.1"/>
<circle cx="77.9" cy="96.1" r="1.1"/>
<circle cx="62.3" cy="111.3" r="1.1"/>
<circle cx="62.2" cy="111.8" r="1.1"/>
<circle cx="59.9" cy="113.7" r="1.1"/>
<circle cx="63.9" cy="109.7" r="1.1"/>
<circle cx="58.4" cy="115.2" r="1.1"/>
<circle cx="62.0" cy="111.8" r="1.1"/>
<circle cx="51.6" cy="122.2" r="1.1"/>
<circle cx="59.0" cy="114.9" r="1.1"/>
<circle cx="86.7" cy="87.8" r="1.1"/>
<circle cx="62.2" cy="111.1" r="1.1"/>
<circle cx="60.4" cy="113.3" r="1.1"/>
<circle cx="68.5" cy="105.5" r="1.1"/>
<circle cx="70.3" cy="103.0" r="1.1"/>
<circle cx="51.3" cy="121.9" r="1.1"/>
<circle cx="60.8" cy="113.0" r="1.1"/>
<circle cx="72.5" cy="101.5" r="1.1"/>
<circle cx="65.7" cy="107.5" r="1.1"/>
<circle cx="64.2" cy="109.2" r="1.1"/>
<circle cx="79.1" cy="95.1" r="1.1"/>
<circle cx="55.8" cy="117.5" r="1.1"/>
<circle cx="63.8" cy="109.8" r="1.1"/>
<circle cx="57.5" cy="115.6" r="1.1"/>
<circle cx="78.4" cy="95.8" r="1.1"/>
<circle cx="42.6" cy="130.6" r="1.1"/>
<circle cx="55.9" cy="117.4" r="1.1"/>
<circle cx="57.4" cy="116.4" r="1.1"/>
<circle cx="69.8" cy="103.2" r="1.1"/>
<circle cx="69.2" cy="103.9" r="1.1"/>
<circle cx="77.5" cy="97.0" r="1.1"/>
<circle cx="46.5" cy="126.4" r="1.1"/>
<circle cx="70.7" cy="103.5" r="1.1"/>
<circle cx="59.9" cy="114.0" r="1.1"/>
<circle cx="56.0" cy="117.6" r="1.1"/>
<circle cx="68.5" cy="104.7" r="1.1"/>
<circle cx="53.3" cy="119.9" r="1.1"/>
<circle cx="41.3" cy="132.0" r="1.1"/>
<circle cx="59.1" cy="113.9" r="1.1"/>
<circle cx="47.3" cy="125.9" r="1.1"/>
<circle cx="56.1" cy="116.8" r="1.1"/>
<circle cx="66.8" cy="105.5" r="1.1"/>
<circle cx="66.2" cy="107.3" r="1.1"/>
<circle cx="79.4" cy="95.9" r="1.1"/>
<circle cx="60.8" cy="112.8" r="1.1"/>
<circle cx="46.9" cy="126.6" r="1.1"/>
<circle cx="55.0" cy="118.4" r="1.1"/>
<circle cx="53.3" cy="120.0" r="1.1"/>
<circle cx="50.2" cy="123.5" r="1.1"/>
<circle cx="67.4" cy="106.7" r="1.1"/>
<circle cx="56.2" cy="117.3" r="1.1"/>
<circle cx="42.3" cy="131.0" r="1.1"/>
<circle cx="70.2" cy="104.8" r="1.1"/>
<circle cx="61.7" cy="111.4" r="1.1"/>
<circle cx="66.6" cy="106.9" r="1.1"/>
<circle cx="64.0" cy="109.5" r="1.1"/>
<circle cx="69.5" cy="103.9" r="1.1"/>
<circle cx="63.3" cy="110.6" r="1.1"/>
<circle cx="75.8" cy="97.9" r="1.1"/>
<circle cx="67.3" cy="105.7" r="1.1"/>
<circle cx="67.0" cy="106.0" r="1.1"/>
<circle cx="67.2" cy="106.2" r="1.1"/>
<circle cx="47.7" cy="125.7" r="1.1"/>
<circle cx="61.2" cy="112.6" r="1.1"/>
<circle cx="60.2" cy="112.8" r="1.1"/>
<circle cx="65.1" cy="108.2" r="1.1"/>
<circle cx="48.7" cy="124.7" r="1.1"/>
<circle cx="79.9" cy="95.2" r="1.1"/>
<circle cx="64.0" cy="109.9" r="1.1"/>
<circle cx="50.3" cy="123.6" r="1.1"/>
<circle cx="45.1" cy="128.0" r="1.1"/>
<circle cx="60.0" cy="113.4" r="1.1"/>
<circle cx="62.0" cy="111.8" r="1.1"/>
<circle cx="55.4" cy="118.1" r="1.1"/>
<circle cx="63.9" cy="108.5" r="1.1"/>
<circle cx="56.2" cy="116.8" r="1.1"/>
<circle cx="68.7" cy="105.6" r="1.1"/>
<circle cx="55.4" cy="118.1" r="1.1"/>
<circle cx="62.5" cy="111.5" r="1.1"/>
<circle cx="73.1" cy="101.5" r="1.1"/>
<circle cx="89.7" cy="84.0" r="1.1"/>
<circle cx="52.4" cy="120.3" r="1.1"/>
<circle cx="58.1" cy="114.8" r="1.1"/>
<circle cx="54.2" cy="119.2" r="1.1"/>
<circle cx="71.1" cy="102.7" r="1.1"/>
<circle cx="50.9" cy="122.4" r="1.1"/>
<circle cx="57.9" cy="115.2" r="1.1"/>
<circle cx="62.6" cy="111.5" r="1.1"/>
<circle cx="52.7" cy="121.2" r="1.1"/>
<circle cx="52.9" cy="119.9" r="1.1"/>
<circle cx="58.0" cy="115.4" r="1.1"/>
<circle cx="41.0" cy="132.0" r="1.1"/>
<circle cx="47.8" cy="125.4" r="1.1"/>
<circle cx="58.6" cy="114.3" r="1.1"/>
<circle cx="64.5" cy="109.3" r="1.1"/>
<circle cx="61.0" cy="112.3" r="1.1"/>
<circle cx="44.4" cy="128.6" r="1.1"/>
<circle cx="58.1" cy="115.0" r="1.1"/>
<circle cx="71.2" cy="102.6" r="1.1"/>
<circle cx="68.7" cy="104.4" r="1.1"/>
<circle cx="62.1" cy="111.7" r="1.1"/>
<circle cx="53.7" cy="120.2" r="1.1"/>
<circle cx="69.5" cy="103.8" r="1.1"/>
<circle cx="56.9" cy="116.1" r="1.1"/>
<circle cx="50.7" cy="122.4" r="1.1"/>
<circle cx="54.5" cy="119.3" r="1.1"/>
<circle cx="78.0" cy="95.1" r="1.1"/>
<circle cx="65.2" cy="108.0" r="1.1"/>
<circle cx="75.0" cy="98.9" r="1.1"/>
<circle cx="57.9" cy="116.4" r="1.1"/>
<circle cx="72.7" cy="100.4" r="1.1"/>
<circle cx="56.6" cy="116.5" r="1.1"/>
<circle cx="61.3" cy="112.0" r="1.1"/>
<circle cx="88.8" cy="86.3" r="1.1"/>
<circle cx="70.9" cy="103.5" r="1.1"/>
<circle cx="57.7" cy="115.4" r="1.1"/>
<circle cx="62.0" cy="111.1" r="1.1"/>
<circle cx="66.3" cy="107.0" r="1.1"/>
<circle cx="75.5" cy="98.3" r="1.1"/>
<circle cx="57.8" cy="115.5" r="1.1"/>
<circle cx="44.8" cy="128.6" r="1.1"/>
<circle cx="60.0" cy="113.6" r="1.1"/>
<circle cx="63.1" cy="110.8" r="1.1"/>
<circle cx="64.1" cy="109.4" r="1.1"/>
<circle cx="76.6" cy="97.3" r="1.1"/>
<circle cx="66.2" cy="106.9" r="1.1"/>
<circle cx="71.4" cy="101.8" r="1.1"/>
<circle cx="51.4" cy="122.2" r="1.1"/>
<circle cx="72.0" cy="100.6" r="1.1"/>
<circle cx="84.8" cy="89.8" r="1.1"/>
<circle cx="71.0" cy="102.4" r="1.1"/>
<circle cx="65.6" cy="107.5" r="1.1"/>
<circle cx="64.5" cy="108.4" r="1.1"/>
<circle cx="81.5" cy="93.7" r="1.1"/>
<circle cx="53.2" cy="119.9" r="1.1"/>
<circle cx="61.8" cy="111.2" r="1.1"/>
<circle cx="67.7" cy="105.1" r="1.1"/>
<circle cx="70.7" cy="104.1" r="1.1"/>
<circle cx="58.4" cy="115.4" r="1.1"/>
<circle cx="66.1" cy="107.5" r="1.1"/>
<circle cx="60.0" cy="113.6" r="1.1"/>
<circle cx="64.2" cy="108.8" r="1.1"/>
<circle cx="61.5" cy="112.2" r="1.1"/>
<circle cx="51.0" cy="122.0" r="1.1"/>
<circle cx="62.7" cy="110.6" r="1.1"/>
<circle cx="72.1" cy="102.4" r="1.1"/>
<circle cx="52.8" cy="120.9" r="1.1"/>
<circle cx="60.4" cy="113.3" r="1.1"/>
<circle cx="69.8" cy="103.7" r="1.1"/>
<circle cx="51.8" cy="121.3" r="1.1"/>
<circle cx="64.8" cy="108.8" r="1.1"/>
<circle cx="51.9" cy="121.3" r="1.1"/>
<circle cx="74.7" cy="99.8" r="1.1"/>
<circle cx="87.0" cy="88.8" r="1.1"/>
<circle cx="84.0" cy="90.0" r="1.1"/>
<circle cx="60.6" cy="112.7" r="1.1"/>
<circle cx="70.6" cy="103.2" r="1.1"/>
<circle cx="64.2" cy="109.8" r="1.1"/>
<circle cx="64.0" cy="109.4" r="1.1"/>
<circle cx="79.0" cy="93.4" r="1.1"/>
<circle cx="49.2" cy="124.2" r="1.1"/>
<circle cx="73.9" cy="100.2" r="1.1"/>
<circle cx="62.4" cy="111.5" r="1.1"/>
<circle cx="77.6" cy="94.8" r="1.1"/>
<circle cx="64.9" cy="108.7" r="1.1"/>
<circle cx="55.9" cy="117.3" r="1.1"/>
<circle cx="65.8" cy="107.2" r="1.1"/>
<circle cx="70.6" cy="102.4" r="1.1"/>
<circle cx="63.3" cy="110.6" r="1.1"/>
<circle cx="68.0" cy="105.1" r="1.1"/>
<circle cx="57.5" cy="115.7" r="1.1"/>
<circle cx="40.7" cy="132.5" r="1.1"/>
<circle cx="72.3" cy="100.8" r="1.1"/>
<circle cx="70.2" cy="103.7" r="1.1"/>
<circle cx="64.5" cy="109.1" r="1.1"/>
<circle cx="63.6" cy="110.1" r="1.1"/>
<circle cx="73.7" cy="99.5" r="1.1"/>
<circle cx="58.1" cy="115.6" r="1.1"/>
<circle cx="55.5" cy="117.7" r="1.1"/>
<circle cx="60.9" cy="113.0" r="1.1"/>
<circle cx="75.3" cy="98.4" r="1.1"/>
<circle cx="48.5" cy="125.0" r="1.1"/>
<circle cx="75.3" cy="98.4" r="1.1"/>
<circle cx="56.2" cy="117.1" r="1.1"/>
<circle cx="51.4" cy="122.0" r="1.1"/>
<circle cx="76.0" cy="97.8" r="1.1"/>
<circle cx="61.9" cy="112.5" r="1.1"/>
<circle cx="49.4" cy="123.7" r="1.1"/>
<circle cx="59.2" cy="114.5" r="1.1"/>
<circle cx="72.6" cy="101.1" r="1.1"/>
<circle cx="75.3" cy="98.8" r="1.1"/>
<circle cx="58.5" cy="114.6" r="1.1"/>
<circle cx="67.1" cy="106.9" r="1.1"/>
<circle cx="70.4" cy="103.0" r="1.1"/>
<circle cx="56.2" cy="116.8" r="1.1"/>
<circle cx="66.6" cy="106.1" r="1.1"/>
<circle cx="62.6" cy="110.4" r="1.1"/>
<circle cx="57.3" cy="115.9" r="1.1"/>
<circle cx="57.8" cy="116.1" r="1.1"/>
<circle cx="63.6" cy="109.3" r="1.1"/>
<circle cx="63.2" cy="109.8" r="1.1"/>
<circle cx="57.0" cy="116.1" r="1.1"/>
<circle cx="58.5" cy="114.7" r="1.1"/>
<circle cx="74.5" cy="99.1" r="1.1"/>
<circle cx="65.1" cy="108.6" r="1.1"/>
<circle cx="72.1" cy="100.9" r="1.1"/>
<circle cx="75.4" cy="97.4" r="1.1"/>
<circle cx="69.0" cy="105.1" r="1.1"/>
<circle cx="86.6" cy="86.5" r="1.1"/>
<circle cx="54.3" cy="119.0" r="1.1"/>
<circle cx="71.3" cy="101.8" r="1.1"/>
<circle cx="59.6" cy="113.8" r="1.1"/>
<circle cx="82.3" cy="90.7" r="1.1"/>
<circle cx="80.6" cy="92.4" r="1.1"/>
<circle cx="42.5" cy="130.6" r="1.1"/>
<circle cx="52.8" cy="121.0" r="1.1"/>
<circle cx="69.8" cy="103.3" r="1.1"/>
<circle cx="71.1" cy="102.4" r="1.1"/>
<circle cx="70.6" cy="103.6" r="1.1"/>
<circle cx="62.2" cy="111.0" r="1.1"/>
<circle cx="67.7" cy="106.6" r="1.1"/>
<circle cx="69.7" cy="103.4" r="1.1"/>
<circle cx="62.1" cy="110.7" r="1.1"/>
<circle cx="73.6" cy="100.3" r="1.1"/>
<circle cx="69.5" cy="103.6" r="1.1"/>
<circle cx="52.1" cy="121.1" r="1.1"/>
<circle cx="72.9" cy="100.3" r="1.1"/>
<circle cx="60.5" cy="113.5" r="1.1"/>
<circle cx="53.6" cy="119.6" r="1.1"/>
<circle cx="66.8" cy="106.7" r="1.1"/>
<circle cx="53.4" cy="119.8" r="1.1"/>
<circle cx="53.4" cy="120.0" r="1.1"/>
<circle cx="46.6" cy="126.5" r="1.1"/>
<circle cx="62.6" cy="110.7" r="1.1"/>
<circle cx="68.1" cy="105.1" r="1.1"/>
<circle cx="73.6" cy="99.3" r="1.1"/>
<circle cx="61.4" cy="112.0" r="1.1"/>
<circle cx="73.8" cy="99.2" r="1.1"/>
<circle cx="63.1" cy="110.3" r="1.1"/>
<circle cx="61.9" cy="111.3" r="1.1"/>
<circle cx="68.9" cy="104.9" r="1.1"/>
<circle cx="73.9" cy="99.2" r="1.1"/>
<circle cx="59.4" cy="113.6" r="1.1"/>
<circle cx="60.4" cy="113.1" r="1.1"/>
<circle cx="61.2" cy="111.9" r="1.1"/>
<circle cx="63.8" cy="109.5" r="1.1"/>
<circle cx="53.5" cy="120.2" r="1.1"/>
<circle cx="73.6" cy="99.8" r="1.1"/>
<circle cx="58.7" cy="114.2" r="1.1"/>
<circle cx="67.7" cy="106.1" r="1.1"/>
<circle cx="54.3" cy="119.7" r="1.1"/>
<circle cx="66.6" cy="106.8" r="1.1"/>
<circle cx="67.0" cy="106.9" r="1.1"/>
<circle cx="58.5" cy="114.2" r="1.1"/>
<circle cx="84.0" cy="89.8" r="1.1"/>
<circle cx="66.8" cy="106.8" r="1.1"/>
<circle cx="81.4" cy="92.7" r="1.1"/>
<circle cx="72.9" cy="100.6" r="1.1"/>
<circle cx="56.0" cy="117.6" r="1.1"/>
<circle cx="58.9" cy="114.9" r="1.1"/>
<circle cx="67.5" cy="106.1" r="1.1"/>
<circle cx="63.5" cy="110.3" r="1.1"/>
<circle cx="63.4" cy="109.5" r="1.1"/>
<circle cx="59.9" cy="114.0" r="1.1"/>
<circle cx="44.1" cy="129.2" r="1.1"/>
<circle cx="60.6" cy="113.2" r="1.1"/>
<circle cx="66.8" cy="107.4" r="1.1"/>
<circle cx="55.3" cy="117.5" r="1.1"/>
<circle cx="55.5" cy="118.6" r="1.1"/>
<circle cx="60.6" cy="112.3" r="1.1"/>
<circle cx="65.8" cy="108.4" r="1.1"/>
<circle cx="48.0" cy="125.3" r="1.1"/>
<circle cx="44.7" cy="128.2" r="1.1"/>
<circle cx="51.8" cy="122.2" r="1.1"/>
<circle cx="41.6" cy="131.8" r="1.1"/>
<circle cx="52.8" cy="120.2" r="1.1"/>
<circle cx="79.5" cy="94.1" r="1.1"/>
<circle cx="51.9" cy="121.6" r="1.1"/>
<circle cx="69.7" cy="103.9" r="1.1"/>
<circle cx="48.6" cy="125.0" r="1.1"/>
<circle cx="66.0" cy="107.4" r="1.1"/>
<circle cx="59.6" cy="113.3" r="1.1"/>
<circle cx="62.3" cy="111.4" r="1.1"/>
<circle cx="68.8" cy="104.6" r="1.1"/>
<circle cx="81.2" cy="91.7" r="1.1"/>
<circle cx="64.9" cy="107.7" r="1.1"/>
<circle cx="64.2" cy="109.6" r="1.1"/>
<circle cx="52.8" cy="120.5" r="1.1"/>
<circle cx="69.0" cy="104.9" r="1.1"/>
<circle cx="60.3" cy="113.4" r="1.1"/>
<circle cx="71.6" cy="102.2" r="1.1"/>
<circle cx="62.5" cy="111.3" r="1.1"/>
<circle cx="81.1" cy="93.8" r="1.1"/>
<circle cx="42.2" cy="131.3" r="1.1"/>
<circle cx="59.8" cy="113.9" r="1.1"/>
<circle cx="72.1" cy="101.4" r="1.1"/>
<circle cx="59.3" cy="113.7" r="1.1"/>
<circle cx="54.7" cy="118.9" r="1.1"/>
<circle cx="60.1" cy="113.4" r="1.1"/>
<circle cx="48.5" cy="124.7" r="1.1"/>
<circle cx="64.1" cy="109.0" r="1.1"/>
<circle cx="88.3" cy="85.5" r="1.1"/>
<circle cx="74.8" cy="98.8" r="1.1"/>
<circle cx="51.4" cy="121.5" r="1.1"/>
<circle cx="53.8" cy="119.7" r="1.1"/>
<circle cx="58.7" cy="114.9" r="1.1"/>
<circle cx="73.4" cy="101.2" r="1.1"/>
<circle cx="54.3" cy="118.9" r="1.1"/>
<circle cx="55.7" cy="117.8" r="1.1"/>
<circle cx="72.1" cy="100.4" r="1.1"/>
<circle cx="71.9" cy="101.9" r="1.1"/>
<circle cx="59.0" cy="114.1" r="1.1"/>
<circle cx="51.3" cy="121.9" r="1.1"/>
<circle cx="46.8" cy="126.2" r="1.1"/>
<circle cx="55.6" cy="118.2" r="1.1"/>
<circle cx="70.7" cy="102.0" r="1.1"/>
<circle cx="56.3" cy="117.1" r="1.1"/>
<circle cx="67.9" cy="105.7" r="1.1"/>
<circle cx="82.4" cy="91.5" r="1.1"/>
<circle cx="75.1" cy="98.7" r="1.1"/>
<circle cx="50.9" cy="122.5" r="1.1"/>
<circle cx="72.0" cy="102.9" r="1.1"/>
<circle cx="75.0" cy="98.3" r="1.1"/>
<circle cx="55.1" cy="118.3" r="1.1"/>
<circle cx="53.0" cy="120.7" r="1.1"/>
<circle cx="61.8" cy="111.7" r="1.1"/>
<circle cx="46.2" cy="126.6" r="1.1"/>
<circle cx="78.2" cy="95.2" r="1.1"/>
<circle cx="51.4" cy="122.1" r="1.1"/>
<circle cx="60.1" cy="112.7" r="1.1"/>
<circle cx="60.5" cy="113.2" r="1.1"/>
<circle cx="64.6" cy="108.9" r="1.1"/>
<circle cx="65.7" cy="108.0" r="1.1"/>
<circle cx="60.7" cy="112.9" r="1.1"/>
<circle cx="74.8" cy="98.4" r="1.1"/>
<circle cx="40.6" cy="132.6" r="1.1"/>
<circle cx="62.9" cy="110.9" r="1.1"/>
<circle cx="55.5" cy="118.0" r="1.1"/>
<circle cx="64.3" cy="109.2" r="1.1"/>
<circle cx="65.2" cy="108.5" r="1.1"/>
<circle cx="53.4" cy="120.0" r="1.1"/>
<circle cx="56.2" cy="117.4" r="1.1"/>
<circle cx="71.2" cy="102.8" r="1.1"/>
<circle cx="66.5" cy="107.0" r="1.1"/>
<circle cx="55.8" cy="117.9" r="1.1"/>
<circle cx="84.2" cy="89.3" r="1.1"/>
<circle cx="87.0" cy="86.9" r="1.1"/>
<circle cx="47.7" cy="125.9" r="1.1"/>
<circle cx="66.1" cy="107.8" r="1.1"/>
<circle cx="89.1" cy="85.1" r="1.1"/>
<circle cx="71.1" cy="102.6" r="1.1"/>
<circle cx="65.2" cy="108.3" r="1.1"/>
<circle cx="60.7" cy="112.8" r="1.1"/>
<circle cx="57.3" cy="116.5" r="1.1"/>
<circle cx="60.7" cy="112.2" r="1.1"/>
<circle cx="57.2" cy="116.0" r="1.1"/>
<circle cx="70.7" cy="102.8" r="1.1"/>
<circle cx="58.8" cy="114.3" r="1.1"/>
<circle cx="58.3" cy="115.0" r="1.1"/>
<circle cx="50.4" cy="123.0" r="1.1"/>
<circle cx="62.4" cy="111.1" r="1.1"/>
<circle cx="53.6" cy="119.0" r="1.1"/>
<circle cx="61.0" cy="112.1" r="1.1"/>
<circle cx="73.8" cy="99.3" r="1.1"/>
<circle cx="66.7" cy="107.0" r="1.1"/>
<circle cx="68.2" cy="105.1" r="1.1"/>
<circle cx="66.6" cy="105.8" r="1.1"/>
<circle cx="63.5" cy="109.8" r="1.1"/>
<circle cx="61.6" cy="111.5" r="1.1"/>
<circle cx="59.7" cy="113.3" r="1.1"/>
<circle cx="70.8" cy="102.4" r="1.1"/>
<circle cx="51.6" cy="121.3" r="1.1"/>
<circle cx="76.9" cy="96.6" r="1.1"/>
<circle cx="63.3" cy="110.0" r="1.1"/>
<circle cx="55.1" cy="118.5" r="1.1"/>
<circle cx="57.8" cy="114.7" r="1.1"/>
<circle cx="55.9" cy="117.5" r="1.1"/>
<circle cx="64.6" cy="108.9" r="1.1"/>
<circle cx="55.4" cy="117.5" r="1.1"/>
<circle cx="74.8" cy="99.1" r="1.1"/>
<circle cx="54.8" cy="118.6" r="1.1"/>
<circle cx="55.3" cy="118.4" r="1.1"/>
<circle cx="42.0" cy="131.3" r="1.1"/>
<circle cx="62.5" cy="111.2" r="1.1"/>
<circle cx="73.9" cy="99.4" r="1.1"/>
<circle cx="69.7" cy="104.0" r="1.1"/>
<circle cx="49.0" cy="124.5" r="1.1"/>
<circle cx="55.0" cy="118.5" r="1.1"/>
<circle cx="81.4" cy="92.3" r="1.1"/>
<circle cx="66.2" cy="107.5" r="1.1"/>
<circle cx="63.0" cy="110.1" r="1.1"/>
<circle cx="73.9" cy="99.3" r="1.1"/>
<circle cx="88.5" cy="85.2" r="1.1"/>
<circle cx="76.4" cy="97.9" r="1.1"/>
<circle cx="64.4" cy="108.9" r="1.1"/>
<circle cx="66.6" cy="107.5" r="1.1"/>
<circle cx="69.3" cy="104.1" r="1.1"/>
<circle cx="56.5" cy="116.9" r="1.1"/>
<circle cx="51.9" cy="121.7" r="1.1"/>
<circle cx="63.5" cy="110.4" r="1.1"/>
<circle cx="53.0" cy="120.6" r="1.1"/>
<circle cx="62.3" cy="110.4" r="1.1"/>
<circle cx="63.9" cy="109.7" r="1.1"/>
<circle cx="87.3" cy="86.6" r="1.1"/>
<circle cx="54.0" cy="119.1" r="1.1"/>
<circle cx="61.6" cy="111.7" r="1.1"/>
<circle cx="61.2" cy="111.9" r="1.1"/>
<circle cx="67.5" cy="106.7" r="1.1"/>
<circle cx="73.8" cy="100.4" r="1.1"/>
<circle cx="57.8" cy="114.7" r="1.1"/>
<circle cx="54.3" cy="119.1" r="1.1"/>
<circle cx="45.8" cy="127.6" r="1.1"/>
<circle cx="53.3" cy="120.1" r="1.1"/>
<circle cx="68.5" cy="104.6" r="1.1"/>
<circle cx="63.4" cy="110.6" r="1.1"/>
<circle cx="52.3" cy="121.0" r="1.1"/>
<circle cx="59.0" cy="114.4" r="1.1"/>
<circle cx="63.2" cy="110.0" r="1.1"/>
<circle cx="68.2" cy="105.3" r="1.1"/>
<circle cx="56.7" cy="116.9" r="1.1"/>
<circle cx="60.3" cy="113.5" r="1.1"/>
<circle cx="44.0" cy="129.7" r="1.1"/>
<circle cx="50.9" cy="122.2" r="1.1"/>
<circle cx="79.8" cy="94.9" r="1.1"/>
<circle cx="59.4" cy="114.2" r="1.1"/>
<circle cx="65.2" cy="107.6" r="1.1"/>
<circle cx="59.0" cy="114.6" r="1.1"/>
<circle cx="54.5" cy="118.7" r="1.1"/>
<circle cx="62.3" cy="111.3" r="1.1"/>
<circle cx="62.9" cy="110.3" r="1.1"/>
<circle cx="62.1" cy="111.4" r="1.1"/>
<circle cx="43.3" cy="130.0" r="1.1"/>
<circle cx="61.4" cy="111.6" r="1.1"/>
<circle cx="54.0" cy="119.5" r="1.1"/>
<circle cx="57.2" cy="116.7" r="1.1"/>
<circle cx="65.3" cy="108.4" r="1.1"/>
<circle cx="69.6" cy="103.7" r="1.1"/>
<circle cx="72.3" cy="101.9" r="1.1"/>
<circle cx="57.7" cy="115.4" r="1.1"/>
<circle cx="72.5" cy="100.6" r="1.1"/>
<circle cx="75.1" cy="97.3" r="1.1"/>
<circle cx="74.8" cy="99.2" r="1.1"/>
<circle cx="77.4" cy="95.9" r="1.1"/>
<circle cx="61.4" cy="112.8" r="1.1"/>
<circle cx="61.1" cy="112.5" r="1.1"/>
<circle cx="71.5" cy="102.0" r="1.1"/>
<circle cx="48.7" cy="124.6" r="1.1"/>
<circle cx="65.1" cy="108.5" r="1.1"/>
<circle cx="57.4" cy="116.1" r="1.1"/>
<circle cx="59.1" cy="114.6" r="1.1"/>
<circle cx="44.8" cy="128.6" r="1.1"/>
<circle cx="53.6" cy="119.7" r="1.1"/>
<circle cx="62.7" cy="110.6" r="1.1"/>
<circle cx="72.2" cy="101.1" r="1.1"/>
<circle cx="73.2" cy="99.8" r="1.1"/>
<circle cx="62.1" cy="110.9" r="1.1"/>
<circle cx="60.9" cy="113.2" r="1.1"/>
<circle cx="54.3" cy="119.3" r="1.1"/>
<circle cx="67.1" cy="106.5" r="1.1"/>
<circle cx="60.3" cy="113.4" r="1.1"/>
<circle cx="69.2" cy="103.8" r="1.1"/>
<circle cx="81.2" cy="92.0" r="1.1"/>
<circle cx="62.6" cy="111.0" r="1.1"/>
<circle cx="47.3" cy="126.0" r="1.1"/>
<circle cx="53.9" cy="119.1" r="1.1"/>
<circle cx="47.7" cy="125.7" r="1.1"/>
<circle cx="50.4" cy="123.0" r="1.1"/>
<circle cx="76.5" cy="96.6" r="1.1"/>
<circle cx="65.3" cy="108.0" r="1.1"/>
<circle cx="47.1" cy="126.0" r="1.1"/>
<circle cx="69.7" cy="103.7" r="1.1"/>
<circle cx="76.0" cy="97.2" r="1.1"/>
<circle cx="59.2" cy="114.5" r="1.1"/>
<circle cx="55.9" cy="117.9" r="1.1"/>
<circle cx="59.4" cy="114.1" r="1.1"/>
<circle cx="65.9" cy="108.9" r="1.1"/>
<circle cx="69.6" cy="103.8" r="1.1"/>
<circle cx="75.2" cy="97.8" r="1.1"/>
<circle cx="75.5" cy="98.0" r="1.1"/>
<circle cx="75.3" cy="98.5" r="1.1"/>
<circle cx="77.1" cy="95.9" r="1.1"/>
<circle cx="69.8" cy="103.8" r="1.1"/>
<circle cx="47.0" cy="126.2" r="1.1"/>
<circle cx="61.5" cy="111.1" r="1.1"/>
<circle cx="66.2" cy="107.0" r="1.1"/>
<circle cx="58.9" cy="114.2" r="1.1"/>
<circle cx="72.4" cy="100.9" r="1.1"/>
<circle cx="59.2" cy="114.2" r="1.1"/>
<circle cx="53.3" cy="120.1" r="1.1"/>
<circle cx="78.0" cy="95.7" r="1.1"/>
<circle cx="69.9" cy="103.2" r="1.1"/>
<circle cx="65.2" cy="109.0" r="1.1"/>
<circle cx="72.6" cy="101.2" r="1.1"/>
<circle cx="74.0" cy="99.3" r="1.1"/>
<circle cx="66.5" cy="107.5" r="1.1"/>
<circle cx="55.9" cy="117.6" r="1.1"/>
<circle cx="58.2" cy="115.5" r="1.1"/>
<circle cx="52.7" cy="120.6" r="1.1"/>
<circle cx="65.0" cy="108.2" r="1.1"/>
<circle cx="75.3" cy="97.5" r="1.1"/>
<circle cx="57.9" cy="115.4" r="1.1"/>
<circle cx="51.1" cy="122.5" r="1.1"/>
<circle cx="84.0" cy="89.5" r="1.1"/>
<circle cx="58.2" cy="115.0" r="1.1"/>
<circle cx="50.1" cy="123.0" r="1.1"/>
<circle cx="65.4" cy="109.1" r="1.1"/>
<circle cx="67.3" cy="106.0" r="1.1"/>
<circle cx="55.6" cy="118.4" r="1.1"/>
<circle cx="71.1" cy="102.1" r="1.1"/>
<circle cx="57.8" cy="115.5" r="1.1"/>
<circle cx="53.3" cy="120.0" r="1.1"/>
<circle cx="64.8" cy="108.4" r="1.1"/>
<circle cx="70.9" cy="102.4" r="1.1"/>
<circle cx="56.3" cy="117.3" r="1.1"/>
<circle cx="66.4" cy="107.0" r="1.1"/>
<circle cx="61.9" cy="111.1" r="1.1"/>
<circle cx="92.3" cy="81.6" r="1.1"/>
<circle cx="55.5" cy="117.9" r="1.1"/>
<circle cx="77.3" cy="97.1" r="1.1"/>
<circle cx="62.4" cy="110.7" r="1.1"/>
<circle cx="61.6" cy="112.1" r="1.1"/>
<circle cx="70.4" cy="103.5" r="1.1"/>
<circle cx="72.2" cy="101.6" r="1.1"/>
<circle cx="76.1" cy="98.0" r="1.1"/>
<circle cx="66.3" cy="107.3" r="1.1"/>
<circle cx="56.7" cy="116.4" r="1.1"/>
<circle cx="57.3" cy="115.9" r="1.1"/>
<circle cx="68.2" cy="104.6" r="1.1"/>
<circle cx="69.0" cy="103.9" r="1.1"/>
<circle cx="77.5" cy="96.7" r="1.1"/>
<circle cx="67.3" cy="106.0" r="1.1"/>
<circle cx="74.0" cy="98.8" r="1.1"/>
<circle cx="78.7" cy="93.5" r="1.1"/>
<circle cx="64.6" cy="109.5" r="1.1"/>
<circle cx="47.4" cy="126.2" r="1.1"/>
<circle cx="50.6" cy="122.6" r="1.1"/>
<circle cx="47.9" cy="125.5" r="1.1"/>
<circle cx="79.5" cy="94.8" r="1.1"/>
<circle cx="54.1" cy="119.2" r="1.1"/>
<circle cx="75.7" cy="98.4" r="1.1"/>
<circle cx="69.0" cy="105.7" r="1.1"/>
<circle cx="80.8" cy="92.9" r="1.1"/>
<circle cx="73.4" cy="100.2" r="1.1"/>
<circle cx="61.8" cy="111.4" r="1.1"/>
<circle cx="60.8" cy="112.3" r="1.1"/>
<circle cx="63.8" cy="109.6" r="1.1"/>
<circle cx="64.7" cy="108.9" r="1.1"/>
<circle cx="57.4" cy="116.3" r="1.1"/>
<circle cx="62.6" cy="111.6" r="1.1"/>
<circle cx="79.7" cy="94.3" r="1.1"/>
<circle cx="45.2" cy="128.0" r="1.1"/>
<circle cx="65.6" cy="107.6" r="1.1"/>
<circle cx="53.5" cy="119.3" r="1.1"/>
<circle cx="64.9" cy="108.7" r="1.1"/>
<circle cx="71.7" cy="102.9" r="1.1"/>
<circle cx="62.3" cy="110.8" r="1.1"/>
<circle cx="71.0" cy="102.1" r="1.1"/>
<circle cx="46.3" cy="127.2" r="1.1"/>
<circle cx="74.4" cy="100.1" r="1.1"/>
<circle cx="56.6" cy="116.8" r="1.1"/>
<circle cx="69.4" cy="103.8" r="1.1"/>
<circle cx="64.8" cy="109.2" r="1.1"/>
<circle cx="55.0" cy="118.5" r="1.1"/>
<circle cx="65.2" cy="108.7" r="1.1"/>
<circle cx="79.1" cy="95.3" r="1.1"/>
<circle cx="65.9" cy="108.2" r="1.1"/>
<circle cx="65.6" cy="107.9" r="1.1"/>
<circle cx="48.2" cy="125.2" r="1.1"/>
<circle cx="77.8" cy="96.3" r="1.1"/>
<circle cx="81.7" cy="93.7" r="1.1"/>
<circle cx="63.2" cy="109.6" r="1.1"/>
<circle cx="60.6" cy="113.2" r="1.1"/>
<circle cx="46.0" cy="127.3" r="1.1"/>
<circle cx="72.1" cy="102.1" r="1.1"/>
<circle cx="91.1" cy="82.4" r="1.1"/>
<circle cx="70.4" cy="104.0" r="1.1"/>
<circle cx="76.1" cy="97.5" r="1.1"/>
<circle cx="68.6" cy="105.1" r="1.1"/>
<circle cx="52.6" cy="120.5" r="1.1"/>
<circle cx="76.8" cy="97.5" r="1.1"/>
<circle cx="50.0" cy="123.5" r="1.1"/>
<circle cx="60.7" cy="112.9" r="1.1"/>
<circle cx="65.8" cy="106.8" r="1.1"/>
<circle cx="72.1" cy="102.3" r="1.1"/>
<circle cx="67.2" cy="106.2" r="1.1"/>
<circle cx="66.9" cy="106.9" r="1.1"/>
<circle cx="55.0" cy="118.3" r="1.1"/>
<circle cx="49.5" cy="123.7" r="1.1"/>
<circle cx="63.6" cy="109.9" r="1.1"/>
<circle cx="55.5" cy="117.8" r="1.1"/>
<circle cx="49.3" cy="124.0" r="1.1"/>
<circle cx="49.7" cy="123.8" r="1.1"/>
<circle cx="57.8" cy="115.7" r="1.1"/>
<circle cx="43.6" cy="130.0" r="1.1"/>
<circle cx="48.9" cy="124.6" r="1.1"/>
<circle cx="45.9" cy="127.6" r="1.1"/>
<circle cx="64.8" cy="108.8" r="1.1"/>
<circle cx="67.2" cy="106.0" r="1.1"/>
<circle cx="83.8" cy="89.6" r="1.1"/>
<circle cx="47.3" cy="125.9" r="1.1"/>
<circle cx="55.8" cy="117.2" r="1.1"/>
<circle cx="72.4" cy="102.5" r="1.1"/>
<circle cx="60.7" cy="112.7" r="1.1"/>
<circle cx="59.5" cy="114.0" r="1.1"/>
<circle cx="80.7" cy="93.0" r="1.1"/>
<circle cx="59.4" cy="114.6" r="1.1"/>
<circle cx="50.9" cy="122.4" r="1.1"/>
<circle cx="49.2" cy="123.9" r="1.1"/>
<circle cx="66.4" cy="106.7" r="1.1"/>
<circle cx="66.1" cy="107.5" r="1.1"/>
<circle cx="48.6" cy="124.6" r="1.1"/>
<circle cx="52.6" cy="120.5" r="1.1"/>
<circle cx="68.5" cy="104.2" r="1.1"/>
<circle cx="68.9" cy="104.0" r="1.1"/>
<circle cx="56.2" cy="117.2" r="1.1"/>
<circle cx="69.4" cy="104.1" r="1.1"/>
<circle cx="68.9" cy="104.6" r="1.1"/>
<circle cx="44.3" cy="128.9" r="1.1"/>
<circle cx="59.7" cy="114.0" r="1.1"/>
<circle cx="67.2" cy="106.0" r="1.1"/>
<circle cx="56.9" cy="116.7" r="1.1"/>
<circle cx="40.6" cy="132.7" r="1.1"/>
<circle cx="60.0" cy="113.4" r="1.1"/>
<circle cx="70.7" cy="103.1" r="1.1"/>
<circle cx="79.4" cy="94.5" r="1.1"/>
<circle cx="90.1" cy="85.3" r="1.1"/>
<circle cx="51.2" cy="122.0" r="1.1"/>
<circle cx="72.9" cy="100.7" r="1.1"/>
<circle cx="75.8" cy="98.0" r="1.1"/>
<circle cx="73.2" cy="100.2" r="1.1"/>
<circle cx="64.5" cy="109.0" r="1.1"/>
<circle cx="50.8" cy="122.7" r="1.1"/>
<circle cx="69.4" cy="103.1" r="1.1"/>
<circle cx="55.5" cy="118.1" r="1.1"/>
<circle cx="92.4" cy="80.7" r="1.1"/>
<circle cx="70.3" cy="102.4" r="1.1"/>
<circle cx="81.9" cy="92.3" r="1.1"/>
<circle cx="53.4" cy="120.0" r="1.1"/>
<circle cx="78.2" cy="96.0" r="1.1"/>
<circle cx="79.5" cy="93.5" r="1.1"/>
<circle cx="79.1" cy="94.8" r="1.1"/>
<circle cx="62.7" cy="111.3" r="1.1"/>
<circle cx="50.4" cy="122.7" r="1.1"/>
<circle cx="61.1" cy="112.1" r="1.1"/>
<circle cx="45.2" cy="128.3" r="1.1"/>
<circle cx="63.9" cy="109.1" r="1.1"/>
<circle cx="52.6" cy="120.8" r="1.1"/>
<circle cx="61.2" cy="111.2" r="1.1"/>
<circle cx="61.8" cy="111.0" r="1.1"/>
<circle cx="83.0" cy="91.1" r="1.1"/>
<circle cx="76.4" cy="97.4" r="1.1"/>
<circle cx="62.4" cy="111.4" r="1.1"/>
<circle cx="75.5" cy="98.1" r="1.1"/>
<circle cx="54.8" cy="118.6" r="1.1"/>
<circle cx="59.4" cy="113.8" r="1.1"/>
<circle cx="72.4" cy="101.2" r="1.1"/>
<circle cx="50.0" cy="123.8" r="1.1"/>
<circle cx="60.0" cy="113.8" r="1.1"/>
<circle cx="49.1" cy="123.9" r="1.1"/>
<circle cx="64.1" cy="108.9" r="1.1"/>
<circle cx="79.9" cy="93.9" r="1.1"/>
<circle cx="55.1" cy="118.4" r="1.1"/>
<circle cx="65.3" cy="108.3" r="1.1"/>
<circle cx="53.6" cy="119.8" r="1.1"/>
<circle cx="50.9" cy="122.9" r="1.1"/>
<circle cx="50.0" cy="123.1" r="1.1"/>
<circle cx="78.1" cy="96.0" r="1.1"/>
<circle cx="87.5" cy="86.1" r="1.1"/>
<circle cx="67.9" cy="106.8" r="1.1"/>
<circle cx="55.4" cy="117.9" r="1.1"/>
<circle cx="70.3" cy="102.7" r="1.1"/>
<circle cx="59.4" cy="114.9" r="1.1"/>
<circle cx="71.3" cy="101.5" r="1.1"/>
<circle cx="65.9" cy="107.4" r="1.1"/>
<circle cx="65.8" cy="108.1" r="1.1"/>
<circle cx="69.2" cy="105.1" r="1.1"/>
<circle cx="56.9" cy="116.2" r="1.1"/>
<circle cx="58.7" cy="114.7" r="1.1"/>
<circle cx="45.0" cy="128.2" r="1.1"/>
<circle cx="58.3" cy="115.2" r="1.1"/>
<circle cx="48.1" cy="125.4" r="1.1"/>
<circle cx="61.4" cy="111.7" r="1.1"/>
<circle cx="52.9" cy="120.7" r="1.1"/>
<circle cx="64.0" cy="109.2" r="1.1"/>
<circle cx="67.6" cy="106.7" r="1.1"/>
<circle cx="48.1" cy="125.4" r="1.1"/>
<circle cx="54.4" cy="119.4" r="1.1"/>
<circle cx="53.1" cy="119.9" r="1.1"/>
<circle cx="70.7" cy="103.8" r="1.1"/>
<circle cx="80.7" cy="93.8" r="1.1"/>
<circle cx="71.8" cy="101.5" r="1.1"/>
<circle cx="59.3" cy="114.1" r="1.1"/>
<circle cx="78.2" cy="94.1" r="1.1"/>
<circle cx="47.1" cy="125.8" r="1.1"/>
<circle cx="78.5" cy="94.8" r="1.1"/>
<circle cx="56.1" cy="117.1" r="1.1"/>
<circle cx="90.5" cy="84.7" r="1.1"/>
<circle cx="79.4" cy="94.9" r="1.1"/>
<circle cx="52.2" cy="121.3" r="1.1"/>
<circle cx="64.7" cy="108.9" r="1.1"/>
<circle cx="60.7" cy="113.3" r="1.1"/>
<circle cx="64.0" cy="109.9" r="1.1"/>
<circle cx="47.5" cy="126.1" r="1.1"/>
<circle cx="55.8" cy="117.3" r="1.1"/>
<circle cx="67.8" cy="105.6" r="1.1"/>
<circle cx="65.2" cy="108.5" r="1.1"/>
<circle cx="75.4" cy="98.4" r="1.1"/>
<circle cx="63.7" cy="109.7" r="1.1"/>
<circle cx="87.4" cy="86.9" r="1.1"/>
<circle cx="55.5" cy="118.1" r="1.1"/>
<circle cx="65.6" cy="108.7" r="1.1"/>
<circle cx="42.9" cy="130.2" r="1.1"/>
<circle cx="49.8" cy="123.3" r="1.1"/>
<circle cx="76.8" cy="96.7" r="1.1"/>
<circle cx="53.1" cy="120.2" r="1.1"/>
<circle cx="68.4" cy="105.0" r="1.1"/>
<circle cx="62.3" cy="110.4" r="1.1"/>
<circle cx="52.0" cy="121.3" r="1.1"/>
<circle cx="59.3" cy="114.7" r="1.1"/>
<circle cx="57.6" cy="116.3" r="1.1"/>
<circle cx="57.8" cy="115.4" r="1.1"/>
<circle cx="70.8" cy="102.3" r="1.1"/>
<circle cx="69.7" cy="103.5" r="1.1"/>
<circle cx="56.9" cy="116.3" r="1.1"/>
<circle cx="53.5" cy="119.9" r="1.1"/>
<circle cx="65.9" cy="108.4" r="1.1"/>
<circle cx="61.9" cy="111.9" r="1.1"/>
<circle cx="73.6" cy="101.0" r="1.1"/>
<circle cx="90.6" cy="83.5" r="1.1"/>
<circle cx="71.7" cy="102.6" r="1.1"/>
<circle cx="62.5" cy="110.9" r="1.1"/>
<circle cx="61.1" cy="112.4" r="1.1"/>
<circle cx="54.0" cy="120.0" r="1.1"/>
<circle cx="53.5" cy="119.7" r="1.1"/>
<circle cx="52.5" cy="120.7" r="1.1"/>
<circle cx="58.8" cy="115.2" r="1.1"/>
<circle cx="58.5" cy="115.0" r="1.1"/>
<circle cx="70.7" cy="102.6" r="1.1"/>
<circle cx="58.8" cy="114.8" r="1.1"/>
<circle cx="60.9" cy="112.3" r="1.1"/>
<circle cx="50.2" cy="123.1" r="1.1"/>
<circle cx="80.0" cy="93.0" r="1.1"/>
<circle cx="68.2" cy="105.3" r="1.1"/>
<circle cx="81.6" cy="92.3" r="1.1"/>
<circle cx="71.2" cy="102.1" r="1.1"/>
<circle cx="78.4" cy="94.8" r="1.1"/>
<circle cx="60.3" cy="113.1" r="1.1"/>
<circle cx="70.4" cy="103.4" r="1.1"/>
<circle cx="91.1" cy="83.4" r="1.1"/>
<circle cx="50.2" cy="123.3" r="1.1"/>
<circle cx="75.2" cy="98.8" r="1.1"/>
<circle cx="80.6" cy="93.0" r="1.1"/>
<circle cx="67.3" cy="106.2" r="1.1"/>
<circle cx="70.9" cy="102.8" r="1.1"/>
<circle cx="76.2" cy="97.4" r="1.1"/>
<circle cx="55.9" cy="117.5" r="1.1"/>
<circle cx="67.3" cy="105.6" r="1.1"/>
<circle cx="53.7" cy="119.4" r="1.1"/>
<circle cx="55.7" cy="117.9" r="1.1"/>
<circle cx="56.3" cy="117.0" r="1.1"/>
<circle cx="61.4" cy="112.2" r="1.1"/>
<circle cx="93.0" cy="80.9" r="1.1"/>
<circle cx="94.8" cy="79.3" r="1.1"/>
<circle cx="96.5" cy="77.9" r="1.1"/>
<circle cx="97.7" cy="77.5" r="1.1"/>
<circle cx="101.1" cy="75.1" r="1.1"/>
<circle cx="101.7" cy="72.1" r="1.1"/>
<circle cx="102.3" cy="70.6" r="1.1"/>
<circle cx="103.4" cy="71.4" r="1.1"/>
<circle cx="105.8" cy="67.7" r="1.1"/>
<circle cx="106.3" cy="68.1" r="1.1"/>
<circle cx="107.5" cy="66.3" r="1.1"/>
<circle cx="126.0" cy="49.2" r="1.1"/>
</g>
<line x1="38.20" y1="135.03" x2="128.50" y2="45.75" stroke="#000" stroke-width="0.9" />
<rect x="38.2" y="44.5" width="90.30" height="90.70" fill="none" stroke="#505050" stroke-width="1"/>
<line x1="39.75" y1="135.20" x2="39.75" y2="140.30" stroke="#505050" stroke-width="1" />
<line x1="33.20" y1="133.50" x2="38.20" y2="133.50" stroke="#505050" stroke-width="1" />
<text x="39.75" y="154.00" font-size="8.5" text-anchor="middle" font-weight="normal" fill="#000" >0</text>
<text transform="translate(26.60,133.50) rotate(-90)" font-size="8.5" text-anchor="middle" font-weight="normal" fill="#000" >0</text>
<line x1="62.91" y1="135.20" x2="62.91" y2="140.30" stroke="#505050" stroke-width="1" />
<line x1="33.20" y1="110.60" x2="38.20" y2="110.60" stroke="#505050" stroke-width="1" />
<text x="62.91" y="154.00" font-size="8.5" text-anchor="middle" font-weight="normal" fill="#000" >2</text>
<text transform="translate(26.60,110.60) rotate(-90)" font-size="8.5" text-anchor="middle" font-weight="normal" fill="#000" >2</text>
<line x1="86.07" y1="135.20" x2="86.07" y2="140.30" stroke="#505050" stroke-width="1" />
<line x1="33.20" y1="87.70" x2="38.20" y2="87.70" stroke="#505050" stroke-width="1" />
<text x="86.07" y="154.00" font-size="8.5" text-anchor="middle" font-weight="normal" fill="#000" >4</text>
<text transform="translate(26.60,87.70) rotate(-90)" font-size="8.5" text-anchor="middle" font-weight="normal" fill="#000" >4</text>
<line x1="109.23" y1="135.20" x2="109.23" y2="140.30" stroke="#505050" stroke-width="1" />
<line x1="33.20" y1="64.80" x2="38.20" y2="64.80" stroke="#505050" stroke-width="1" />
<text x="109.23" y="154.00" font-size="8.5" text-anchor="middle" font-weight="normal" fill="#000" >6</text>
<text transform="translate(26.60,64.80) rotate(-90)" font-size="8.5" text-anchor="middle" font-weight="normal" fill="#000" >6</text>
<text x="116.30" y="154.00" font-size="8.5">×<tspan dx="1.5">10</tspan><tspan font-size="5.8" dy="-4.5" dx="0.9">8</tspan></text>
<text transform="translate(26.60,57.30) rotate(-90)" font-size="8.5">×<tspan dx="1.5">10</tspan><tspan font-size="5.8" dy="-4.5" dx="0.9">8</tspan></text>
<text x="42.2" y="62.60" font-size="10.2">R<tspan font-size="6.8" dy="-4.4" dx="0.4">2</tspan><tspan dy="4.0" dx="2.5" font-size="9.2">=</tspan><tspan dy="0.4" dx="3.0" font-size="9.85">0.998</tspan></text>
<text x="83.40" y="224.00" font-size="10.1" text-anchor="middle" font-weight="bold" fill="#000" >Final model</text>
<text transform="translate(12.90,280.60) rotate(-90)" font-size="10.1" text-anchor="middle" font-weight="normal" fill="#000" >Automated</text>
<text x="83.40" y="359.80" font-size="10.1" text-anchor="middle" font-weight="normal" fill="#000" >Lineshape fitting</text>
<g fill="#2a5d8e" stroke="#1a3d60" stroke-width="0.5">
<circle cx="42.2" cy="322.8" r="1.15"/>
<circle cx="42.1" cy="322.9" r="1.15"/>
<circle cx="45.5" cy="319.5" r="1.15"/>
<circle cx="43.3" cy="321.7" r="1.15"/>
<circle cx="42.8" cy="322.2" r="1.15"/>
<circle cx="43.2" cy="321.8" r="1.15"/>
<circle cx="44.7" cy="320.3" r="1.15"/>
<circle cx="42.1" cy="322.9" r="1.15"/>
<circle cx="42.2" cy="322.8" r="1.15"/>
<circle cx="44.5" cy="320.5" r="1.15"/>
<circle cx="45.6" cy="319.4" r="1.15"/>
<circle cx="44.6" cy="320.4" r="1.15"/>
<circle cx="45.9" cy="319.1" r="1.15"/>
<circle cx="42.8" cy="322.2" r="1.15"/>
<circle cx="43.1" cy="321.9" r="1.15"/>
<circle cx="43.2" cy="321.8" r="1.15"/>
<circle cx="43.2" cy="321.8" r="1.15"/>
<circle cx="42.7" cy="322.3" r="1.15"/>
<circle cx="45.2" cy="319.8" r="1.15"/>
<circle cx="42.8" cy="322.2" r="1.15"/>
<circle cx="43.4" cy="321.6" r="1.15"/>
<circle cx="43.7" cy="321.3" r="1.15"/>
<circle cx="46.1" cy="318.9" r="1.15"/>
<circle cx="43.0" cy="322.0" r="1.15"/>
<circle cx="44.7" cy="320.3" r="1.15"/>
<circle cx="43.0" cy="322.0" r="1.15"/>
<circle cx="45.2" cy="319.8" r="1.15"/>
<circle cx="43.3" cy="321.7" r="1.15"/>
<circle cx="41.6" cy="323.4" r="1.15"/>
<circle cx="43.9" cy="321.1" r="1.15"/>
<circle cx="43.1" cy="321.9" r="1.15"/>
<circle cx="42.7" cy="322.3" r="1.15"/>
<circle cx="42.9" cy="322.1" r="1.15"/>
<circle cx="41.5" cy="323.5" r="1.15"/>
<circle cx="44.9" cy="320.1" r="1.15"/>
<circle cx="44.0" cy="321.0" r="1.15"/>
<circle cx="44.4" cy="320.6" r="1.15"/>
<circle cx="44.1" cy="320.9" r="1.15"/>
<circle cx="43.3" cy="321.7" r="1.15"/>
<circle cx="43.6" cy="321.4" r="1.15"/>
<circle cx="67.1" cy="297.9" r="1.15"/>
<circle cx="93.1" cy="272.0" r="1.15"/>
<circle cx="126.2" cy="238.9" r="1.15"/>
</g>
<line x1="38.20" y1="326.80" x2="128.50" y2="236.62" stroke="#000" stroke-width="0.9" />
<rect x="38.2" y="235.5" width="90.30" height="90.70" fill="none" stroke="#505050" stroke-width="1"/>
<line x1="41.50" y1="326.20" x2="41.50" y2="331.30" stroke="#505050" stroke-width="1" />
<line x1="33.20" y1="323.50" x2="38.20" y2="323.50" stroke="#505050" stroke-width="1" />
<text x="41.50" y="345.00" font-size="8.5" text-anchor="middle" font-weight="normal" fill="#000" >0</text>
<text transform="translate(26.60,323.50) rotate(-90)" font-size="8.5" text-anchor="middle" font-weight="normal" fill="#000" >0</text>
<line x1="59.30" y1="326.20" x2="59.30" y2="331.30" stroke="#505050" stroke-width="1" />
<line x1="33.20" y1="305.73" x2="38.20" y2="305.73" stroke="#505050" stroke-width="1" />
<text x="59.30" y="345.00" font-size="8.5" text-anchor="middle" font-weight="normal" fill="#000" >5</text>
<text transform="translate(26.60,305.73) rotate(-90)" font-size="8.5" text-anchor="middle" font-weight="normal" fill="#000" >5</text>
<line x1="77.10" y1="326.20" x2="77.10" y2="331.30" stroke="#505050" stroke-width="1" />
<line x1="33.20" y1="287.95" x2="38.20" y2="287.95" stroke="#505050" stroke-width="1" />
<text x="77.10" y="345.00" font-size="8.5" text-anchor="middle" font-weight="normal" fill="#000" >10</text>
<text transform="translate(26.60,287.95) rotate(-90)" font-size="8.5" text-anchor="middle" font-weight="normal" fill="#000" >10</text>
<line x1="94.90" y1="326.20" x2="94.90" y2="331.30" stroke="#505050" stroke-width="1" />
<line x1="33.20" y1="270.18" x2="38.20" y2="270.18" stroke="#505050" stroke-width="1" />
<text x="94.90" y="345.00" font-size="8.5" text-anchor="middle" font-weight="normal" fill="#000" >15</text>
<text transform="translate(26.60,270.18) rotate(-90)" font-size="8.5" text-anchor="middle" font-weight="normal" fill="#000" >15</text>
<line x1="112.70" y1="326.20" x2="112.70" y2="331.30" stroke="#505050" stroke-width="1" />
<line x1="33.20" y1="252.40" x2="38.20" y2="252.40" stroke="#505050" stroke-width="1" />
<text x="112.70" y="345.00" font-size="8.5" text-anchor="middle" font-weight="normal" fill="#000" >20</text>
<text transform="translate(26.60,252.40) rotate(-90)" font-size="8.5" text-anchor="middle" font-weight="normal" fill="#000" >20</text>
<text x="118.8" y="345.00" font-size="8.5"><tspan font-size="5.8" dy="0"></tspan></text>
<text x="116.50" y="345.00" font-size="8.5">×<tspan dx="1.5">10</tspan><tspan font-size="5.8" dy="-4.5" dx="0.9">8</tspan></text>
<text transform="translate(26.60,248.30) rotate(-90)" font-size="8.5">×<tspan dx="1.5">10</tspan><tspan font-size="5.8" dy="-4.5" dx="0.9">8</tspan></text>
<text x="42.2" y="253.60" font-size="10.2">R<tspan font-size="6.8" dy="-4.4" dx="0.4">2</tspan><tspan dy="4.0" dx="2.5" font-size="9.2">=</tspan><tspan dy="0.4" dx="3.0" font-size="9.85">1.000</tspan></text>
<text x="234.20" y="33.10" font-size="10.1" text-anchor="middle" font-weight="bold" fill="#000" >Bland−Altman</text>
<text transform="translate(161.60,90.20) rotate(-90)" font-size="10.1" text-anchor="middle" font-weight="normal" fill="#000" >Automated − lineshape fitting</text>
<text x="247.40" y="168.50" font-size="10.1" text-anchor="middle" font-weight="normal" fill="#000" >Mean</text>
<polygon points="195.6,83.0 195.8,80.0 196.5,77.5 198.5,75.0 201.0,72.5 203.5,70.8 206.5,69.5 210.0,68.8 215.0,68.6 219.0,68.6 223.0,69.5 227.0,70.3 229.5,71.5 230.3,75.0 229.8,80.0 230.0,85.0 230.3,90.0 229.2,95.0 227.8,99.5 224.0,101.0 218.0,101.5 212.0,101.2 209.0,100.0 204.0,98.5 200.5,96.0 198.0,93.0 196.5,89.5 195.8,86.5" fill="#3a86c6"/>
<g fill="#3a86c6">
<circle cx="212.0" cy="101.3" r="1.2"/>
<circle cx="206.8" cy="71.5" r="1.2"/>
<circle cx="196.0" cy="78.7" r="1.2"/>
<circle cx="196.0" cy="80.8" r="1.2"/>
<circle cx="207.7" cy="70.0" r="1.2"/>
<circle cx="215.3" cy="68.2" r="1.2"/>
<circle cx="209.3" cy="100.8" r="1.2"/>
<circle cx="207.2" cy="99.3" r="1.2"/>
<circle cx="195.4" cy="77.1" r="1.2"/>
<circle cx="215.6" cy="71.0" r="1.2"/>
<circle cx="217.3" cy="67.6" r="1.2"/>
<circle cx="221.6" cy="100.0" r="1.2"/>
<circle cx="223.0" cy="101.0" r="1.2"/>
<circle cx="201.4" cy="94.0" r="1.2"/>
<circle cx="218.6" cy="100.7" r="1.2"/>
<circle cx="228.6" cy="74.7" r="1.2"/>
<circle cx="228.0" cy="99.9" r="1.2"/>
<circle cx="196.7" cy="88.2" r="1.2"/>
<circle cx="230.1" cy="71.9" r="1.2"/>
<circle cx="228.2" cy="96.1" r="1.2"/>
<circle cx="211.7" cy="102.2" r="1.2"/>
<circle cx="215.1" cy="68.6" r="1.2"/>
<circle cx="198.1" cy="84.7" r="1.2"/>
<circle cx="211.4" cy="68.3" r="1.2"/>
<circle cx="226.0" cy="98.4" r="1.2"/>
<circle cx="228.9" cy="76.0" r="1.2"/>
<circle cx="229.2" cy="82.9" r="1.2"/>
<circle cx="203.1" cy="72.4" r="1.2"/>
<circle cx="228.2" cy="73.3" r="1.2"/>
<circle cx="230.6" cy="73.0" r="1.2"/>
<circle cx="224.2" cy="70.3" r="1.2"/>
<circle cx="213.3" cy="99.4" r="1.2"/>
<circle cx="205.5" cy="70.1" r="1.2"/>
<circle cx="216.0" cy="102.4" r="1.2"/>
<circle cx="196.1" cy="89.4" r="1.2"/>
<circle cx="227.4" cy="93.7" r="1.2"/>
<circle cx="227.5" cy="71.4" r="1.2"/>
<circle cx="227.8" cy="81.1" r="1.2"/>
<circle cx="214.7" cy="101.8" r="1.2"/>
<circle cx="228.8" cy="97.3" r="1.2"/>
<circle cx="230.5" cy="86.5" r="1.2"/>
<circle cx="230.6" cy="79.8" r="1.2"/>
<circle cx="195.1" cy="80.8" r="1.2"/>
<circle cx="231.0" cy="92.3" r="1.2"/>
<circle cx="196.2" cy="86.5" r="1.2"/>
<circle cx="208.0" cy="69.5" r="1.2"/>
<circle cx="223.8" cy="102.1" r="1.2"/>
<circle cx="228.7" cy="94.4" r="1.2"/>
<circle cx="224.4" cy="69.2" r="1.2"/>
<circle cx="212.9" cy="70.8" r="1.2"/>
<circle cx="218.0" cy="69.9" r="1.2"/>
<circle cx="207.6" cy="100.2" r="1.2"/>
<circle cx="229.4" cy="97.6" r="1.2"/>
<circle cx="211.2" cy="71.0" r="1.2"/>
<circle cx="211.0" cy="100.9" r="1.2"/>
<circle cx="210.0" cy="100.4" r="1.2"/>
<circle cx="197.4" cy="81.5" r="1.2"/>
<circle cx="200.0" cy="92.4" r="1.2"/>
<circle cx="219.5" cy="100.0" r="1.2"/>
<circle cx="225.8" cy="68.9" r="1.2"/>
<circle cx="197.4" cy="87.8" r="1.2"/>
<circle cx="223.7" cy="99.9" r="1.2"/>
<circle cx="228.2" cy="93.1" r="1.2"/>
<circle cx="196.9" cy="93.4" r="1.2"/>
<circle cx="196.8" cy="75.8" r="1.2"/>
<circle cx="215.6" cy="67.9" r="1.2"/>
<circle cx="215.6" cy="101.3" r="1.2"/>
<circle cx="224.3" cy="72.1" r="1.2"/>
<circle cx="228.3" cy="78.9" r="1.2"/>
<circle cx="209.0" cy="67.9" r="1.2"/>
<circle cx="229.9" cy="95.4" r="1.2"/>
<circle cx="227.6" cy="81.9" r="1.2"/>
<circle cx="205.1" cy="99.2" r="1.2"/>
<circle cx="230.9" cy="74.0" r="1.2"/>
<circle cx="200.2" cy="92.2" r="1.2"/>
<circle cx="202.1" cy="96.4" r="1.2"/>
<circle cx="230.4" cy="72.9" r="1.2"/>
<circle cx="208.2" cy="100.1" r="1.2"/>
<circle cx="213.7" cy="100.5" r="1.2"/>
<circle cx="219.5" cy="68.2" r="1.2"/>
<circle cx="229.3" cy="72.8" r="1.2"/>
<circle cx="218.6" cy="101.0" r="1.2"/>
<circle cx="212.7" cy="101.1" r="1.2"/>
<circle cx="197.4" cy="86.4" r="1.2"/>
<circle cx="201.3" cy="95.7" r="1.2"/>
<circle cx="201.1" cy="97.1" r="1.2"/>
<circle cx="196.9" cy="76.4" r="1.2"/>
<circle cx="209.5" cy="100.3" r="1.2"/>
<circle cx="205.4" cy="98.0" r="1.2"/>
<circle cx="207.1" cy="71.1" r="1.2"/>
<circle cx="202.0" cy="97.0" r="1.2"/>
<circle cx="215.7" cy="101.5" r="1.2"/>
<circle cx="214.5" cy="101.0" r="1.2"/>
<circle cx="210.9" cy="70.5" r="1.2"/>
<circle cx="219.1" cy="70.9" r="1.2"/>
<circle cx="198.1" cy="91.3" r="1.2"/>
<circle cx="204.9" cy="98.6" r="1.2"/>
<circle cx="215.8" cy="101.8" r="1.2"/>
<circle cx="227.7" cy="82.1" r="1.2"/>
<circle cx="212.8" cy="68.6" r="1.2"/>
<circle cx="195.1" cy="85.8" r="1.2"/>
<circle cx="218.8" cy="68.8" r="1.2"/>
<circle cx="231.0" cy="73.1" r="1.2"/>
<circle cx="195.0" cy="82.2" r="1.2"/>
<circle cx="203.7" cy="72.5" r="1.2"/>
<circle cx="221.8" cy="69.7" r="1.2"/>
<circle cx="229.8" cy="72.5" r="1.2"/>
<circle cx="231.1" cy="77.0" r="1.2"/>
<circle cx="223.8" cy="71.5" r="1.2"/>
<circle cx="202.3" cy="98.4" r="1.2"/>
<circle cx="197.2" cy="81.6" r="1.2"/>
<circle cx="200.7" cy="73.9" r="1.2"/>
<circle cx="229.6" cy="94.5" r="1.2"/>
<circle cx="215.9" cy="99.4" r="1.2"/>
<circle cx="207.4" cy="69.0" r="1.2"/>
<circle cx="210.7" cy="69.5" r="1.2"/>
<circle cx="198.2" cy="75.0" r="1.2"/>
<circle cx="222.9" cy="101.0" r="1.2"/>
<circle cx="210.8" cy="101.2" r="1.2"/>
<circle cx="228.0" cy="88.0" r="1.2"/>
<circle cx="227.1" cy="96.4" r="1.2"/>
<circle cx="212.0" cy="100.7" r="1.2"/>
<circle cx="230.2" cy="92.3" r="1.2"/>
<circle cx="211.9" cy="71.1" r="1.2"/>
<circle cx="223.3" cy="68.7" r="1.2"/>
<circle cx="202.1" cy="71.1" r="1.2"/>
<circle cx="228.6" cy="87.9" r="1.2"/>
<circle cx="213.1" cy="69.8" r="1.2"/>
<circle cx="216.0" cy="71.1" r="1.2"/>
<circle cx="196.3" cy="88.2" r="1.2"/>
<circle cx="210.6" cy="67.7" r="1.2"/>
<circle cx="227.9" cy="82.2" r="1.2"/>
<circle cx="201.9" cy="74.1" r="1.2"/>
<circle cx="229.8" cy="90.4" r="1.2"/>
<circle cx="207.7" cy="100.2" r="1.2"/>
<circle cx="215.3" cy="98.9" r="1.2"/>
<circle cx="217.0" cy="99.2" r="1.2"/>
<circle cx="228.0" cy="72.5" r="1.2"/>
<circle cx="224.3" cy="99.3" r="1.2"/>
<circle cx="228.6" cy="79.4" r="1.2"/>
<circle cx="228.1" cy="72.6" r="1.2"/>
<circle cx="197.1" cy="76.1" r="1.2"/>
<circle cx="219.4" cy="69.9" r="1.2"/>
<circle cx="197.3" cy="90.2" r="1.2"/>
<circle cx="216.2" cy="70.3" r="1.2"/>
<circle cx="202.6" cy="71.2" r="1.2"/>
<circle cx="216.2" cy="100.7" r="1.2"/>
<circle cx="196.2" cy="82.4" r="1.2"/>
<circle cx="194.5" cy="82.3" r="1.2"/>
<circle cx="209.7" cy="98.9" r="1.2"/>
<circle cx="216.6" cy="67.9" r="1.2"/>
<circle cx="210.0" cy="99.9" r="1.2"/>
<circle cx="227.2" cy="92.8" r="1.2"/>
<circle cx="230.7" cy="84.8" r="1.2"/>
<circle cx="199.3" cy="75.6" r="1.2"/>
<circle cx="201.5" cy="94.0" r="1.2"/>
<circle cx="226.8" cy="99.0" r="1.2"/>
<circle cx="214.6" cy="71.1" r="1.2"/>
<circle cx="225.2" cy="70.7" r="1.2"/>
<circle cx="229.8" cy="80.8" r="1.2"/>
<circle cx="205.5" cy="98.8" r="1.2"/>
<circle cx="228.3" cy="84.1" r="1.2"/>
<circle cx="226.7" cy="97.9" r="1.2"/>
<circle cx="200.6" cy="72.2" r="1.2"/>
<circle cx="224.5" cy="100.8" r="1.2"/>
<circle cx="197.1" cy="92.0" r="1.2"/>
<circle cx="228.0" cy="88.0" r="1.2"/>
<circle cx="228.7" cy="97.3" r="1.2"/>
<circle cx="214.4" cy="69.9" r="1.2"/>
<circle cx="197.2" cy="76.0" r="1.2"/>
<circle cx="220.3" cy="102.5" r="1.2"/>
<circle cx="225.4" cy="71.5" r="1.2"/>
<circle cx="215.0" cy="101.6" r="1.2"/>
<circle cx="229.2" cy="87.6" r="1.2"/>
<circle cx="227.1" cy="100.8" r="1.2"/>
<circle cx="196.6" cy="83.0" r="1.2"/>
<circle cx="206.5" cy="70.4" r="1.2"/>
<circle cx="207.7" cy="97.9" r="1.2"/>
<circle cx="198.2" cy="80.4" r="1.2"/>
<circle cx="223.1" cy="72.0" r="1.2"/>
<circle cx="219.3" cy="99.1" r="1.2"/>
<circle cx="209.7" cy="68.7" r="1.2"/>
<circle cx="198.2" cy="85.1" r="1.2"/>
<circle cx="226.7" cy="96.5" r="1.2"/>
<circle cx="231.1" cy="76.2" r="1.2"/>
<circle cx="227.1" cy="98.1" r="1.2"/>
<circle cx="219.0" cy="67.5" r="1.2"/>
<circle cx="227.4" cy="78.6" r="1.2"/>
<circle cx="218.0" cy="67.5" r="1.2"/>
<circle cx="225.0" cy="70.7" r="1.2"/>
<circle cx="216.3" cy="69.8" r="1.2"/>
<circle cx="196.1" cy="79.5" r="1.2"/>
<circle cx="196.4" cy="82.9" r="1.2"/>
<circle cx="223.1" cy="69.9" r="1.2"/>
<circle cx="206.3" cy="68.3" r="1.2"/>
<circle cx="227.0" cy="72.9" r="1.2"/>
<circle cx="230.9" cy="91.1" r="1.2"/>
<circle cx="229.8" cy="72.4" r="1.2"/>
<circle cx="220.0" cy="100.2" r="1.2"/>
<circle cx="229.7" cy="85.7" r="1.2"/>
<circle cx="231.1" cy="91.0" r="1.2"/>
<circle cx="196.0" cy="88.5" r="1.2"/>
<circle cx="202.7" cy="98.3" r="1.2"/>
<circle cx="196.8" cy="76.9" r="1.2"/>
<circle cx="230.2" cy="75.9" r="1.2"/>
<circle cx="228.4" cy="91.5" r="1.2"/>
<circle cx="206.4" cy="97.1" r="1.2"/>
<circle cx="202.2" cy="96.1" r="1.2"/>
<circle cx="228.5" cy="76.2" r="1.2"/>
<circle cx="210.7" cy="98.3" r="1.2"/>
<circle cx="229.1" cy="83.9" r="1.2"/>
<circle cx="229.6" cy="88.4" r="1.2"/>
<circle cx="205.6" cy="100.1" r="1.2"/>
<circle cx="200.4" cy="75.3" r="1.2"/>
<circle cx="226.4" cy="72.8" r="1.2"/>
<circle cx="202.3" cy="94.6" r="1.2"/>
<circle cx="196.9" cy="80.4" r="1.2"/>
<circle cx="222.2" cy="70.0" r="1.2"/>
<circle cx="230.0" cy="90.5" r="1.2"/>
<circle cx="228.2" cy="90.8" r="1.2"/>
<circle cx="196.0" cy="89.7" r="1.2"/>
<circle cx="201.0" cy="73.6" r="1.2"/>
<circle cx="197.9" cy="79.1" r="1.2"/>
<circle cx="224.2" cy="68.7" r="1.2"/>
<circle cx="208.8" cy="97.6" r="1.2"/>
<circle cx="229.4" cy="83.8" r="1.2"/>
<circle cx="196.2" cy="79.4" r="1.2"/>
<circle cx="211.3" cy="70.2" r="1.2"/>
<circle cx="208.7" cy="71.4" r="1.2"/>
<circle cx="218.0" cy="102.0" r="1.2"/>
<circle cx="223.7" cy="68.5" r="1.2"/>
<circle cx="216.5" cy="101.4" r="1.2"/>
<circle cx="197.2" cy="81.5" r="1.2"/>
<circle cx="209.4" cy="101.0" r="1.2"/>
<circle cx="208.0" cy="100.0" r="1.2"/>
<circle cx="199.7" cy="91.9" r="1.2"/>
<circle cx="228.9" cy="97.9" r="1.2"/>
<circle cx="229.5" cy="74.3" r="1.2"/>
<circle cx="228.2" cy="92.3" r="1.2"/>
<circle cx="215.6" cy="100.3" r="1.2"/>
<circle cx="227.8" cy="94.0" r="1.2"/>
<circle cx="207.4" cy="98.5" r="1.2"/>
<circle cx="226.2" cy="100.9" r="1.2"/>
<circle cx="205.3" cy="99.0" r="1.2"/>
<circle cx="209.1" cy="99.6" r="1.2"/>
<circle cx="203.3" cy="71.9" r="1.2"/>
<circle cx="208.3" cy="101.0" r="1.2"/>
<circle cx="231.2" cy="90.5" r="1.2"/>
<circle cx="230.5" cy="78.9" r="1.2"/>
<circle cx="195.8" cy="90.8" r="1.2"/>
<circle cx="230.0" cy="78.2" r="1.2"/>
<circle cx="196.6" cy="90.1" r="1.2"/>
<circle cx="222.3" cy="98.9" r="1.2"/>
<circle cx="229.7" cy="78.0" r="1.2"/>
<circle cx="201.2" cy="73.6" r="1.2"/>
<circle cx="204.3" cy="70.2" r="1.2"/>
<circle cx="228.5" cy="96.5" r="1.2"/>
<circle cx="200.8" cy="94.6" r="1.2"/>
<circle cx="206.5" cy="71.7" r="1.2"/>
<circle cx="230.1" cy="87.2" r="1.2"/>
<circle cx="205.5" cy="98.7" r="1.2"/>
<circle cx="207.1" cy="97.1" r="1.2"/>
<circle cx="201.7" cy="71.8" r="1.2"/>
<circle cx="194.7" cy="80.4" r="1.2"/>
<circle cx="208.6" cy="99.4" r="1.2"/>
<circle cx="196.9" cy="84.4" r="1.2"/>
<circle cx="226.1" cy="69.1" r="1.2"/>
<circle cx="212.9" cy="102.4" r="1.2"/>
<circle cx="230.0" cy="73.7" r="1.2"/>
<circle cx="211.3" cy="102.2" r="1.2"/>
<circle cx="228.9" cy="86.3" r="1.2"/>
<circle cx="231.3" cy="87.1" r="1.2"/>
<circle cx="210.1" cy="70.0" r="1.2"/>
<circle cx="230.6" cy="81.0" r="1.2"/>
<circle cx="210.8" cy="68.7" r="1.2"/>
<circle cx="219.6" cy="99.3" r="1.2"/>
<circle cx="200.8" cy="75.4" r="1.2"/>
<circle cx="212.1" cy="68.6" r="1.2"/>
<circle cx="228.9" cy="79.3" r="1.2"/>
<circle cx="226.7" cy="70.4" r="1.2"/>
<circle cx="211.5" cy="71.2" r="1.2"/>
<circle cx="201.0" cy="73.6" r="1.2"/>
<circle cx="197.3" cy="76.3" r="1.2"/>
<circle cx="227.9" cy="79.6" r="1.2"/>
<circle cx="200.6" cy="95.8" r="1.2"/>
<circle cx="222.4" cy="101.7" r="1.2"/>
<circle cx="229.7" cy="80.5" r="1.2"/>
<circle cx="204.6" cy="99.1" r="1.2"/>
<circle cx="213.6" cy="101.7" r="1.2"/>
<circle cx="206.9" cy="100.5" r="1.2"/>
<circle cx="230.5" cy="73.4" r="1.2"/>
<circle cx="230.4" cy="91.9" r="1.2"/>
<circle cx="196.2" cy="84.2" r="1.2"/>
<circle cx="229.3" cy="94.7" r="1.2"/>
<circle cx="228.4" cy="91.2" r="1.2"/>
<circle cx="228.5" cy="97.8" r="1.2"/>
<circle cx="217.9" cy="101.8" r="1.2"/>
<circle cx="215.5" cy="70.8" r="1.2"/>
<circle cx="219.5" cy="68.4" r="1.2"/>
<circle cx="200.8" cy="75.2" r="1.2"/>
<circle cx="198.5" cy="76.1" r="1.2"/>
<circle cx="201.2" cy="97.1" r="1.2"/>
<circle cx="227.9" cy="83.4" r="1.2"/>
<circle cx="229.5" cy="97.5" r="1.2"/>
<circle cx="224.3" cy="71.7" r="1.2"/>
<circle cx="229.8" cy="74.9" r="1.2"/>
<circle cx="205.8" cy="98.1" r="1.2"/>
<circle cx="230.1" cy="75.9" r="1.2"/>
<circle cx="212.1" cy="98.7" r="1.2"/>
<circle cx="200.3" cy="96.0" r="1.2"/>
<circle cx="198.0" cy="80.6" r="1.2"/>
<circle cx="196.8" cy="79.5" r="1.2"/>
<circle cx="228.9" cy="74.5" r="1.2"/>
<circle cx="224.6" cy="69.0" r="1.2"/>
<circle cx="202.9" cy="96.0" r="1.2"/>
<circle cx="195.1" cy="84.7" r="1.2"/>
<circle cx="212.2" cy="69.9" r="1.2"/>
<circle cx="196.0" cy="82.6" r="1.2"/>
<circle cx="197.8" cy="90.8" r="1.2"/>
<circle cx="206.0" cy="99.8" r="1.2"/>
<circle cx="228.7" cy="72.3" r="1.2"/>
<circle cx="197.1" cy="87.8" r="1.2"/>
<circle cx="198.2" cy="85.3" r="1.2"/>
<circle cx="199.2" cy="74.5" r="1.2"/>
<circle cx="209.1" cy="101.3" r="1.2"/>
<circle cx="200.1" cy="74.7" r="1.2"/>
<circle cx="228.1" cy="74.8" r="1.2"/>
<circle cx="209.9" cy="99.1" r="1.2"/>
<circle cx="229.4" cy="70.2" r="1.2"/>
<circle cx="210.8" cy="100.9" r="1.2"/>
<circle cx="200.8" cy="73.0" r="1.2"/>
<circle cx="227.4" cy="98.6" r="1.2"/>
<circle cx="197.1" cy="78.2" r="1.2"/>
<circle cx="208.3" cy="98.0" r="1.2"/>
<circle cx="229.0" cy="87.5" r="1.2"/>
<circle cx="220.7" cy="68.4" r="1.2"/>
<circle cx="218.1" cy="99.7" r="1.2"/>
<circle cx="215.7" cy="70.2" r="1.2"/>
<circle cx="227.9" cy="81.6" r="1.2"/>
<circle cx="202.6" cy="71.4" r="1.2"/>
<circle cx="230.2" cy="94.0" r="1.2"/>
<circle cx="227.3" cy="71.3" r="1.2"/>
<circle cx="230.8" cy="92.3" r="1.2"/>
<circle cx="197.0" cy="85.8" r="1.2"/>
<circle cx="229.7" cy="76.1" r="1.2"/>
<circle cx="214.3" cy="69.7" r="1.2"/>
<circle cx="210.5" cy="70.0" r="1.2"/>
<circle cx="230.3" cy="87.8" r="1.2"/>
<circle cx="195.5" cy="86.9" r="1.2"/>
<circle cx="225.2" cy="98.8" r="1.2"/>
<circle cx="211.2" cy="68.9" r="1.2"/>
<circle cx="197.3" cy="90.7" r="1.2"/>
<circle cx="217.7" cy="69.8" r="1.2"/>
<circle cx="223.4" cy="99.7" r="1.2"/>
<circle cx="227.7" cy="74.1" r="1.2"/>
<circle cx="200.2" cy="96.0" r="1.2"/>
<circle cx="220.1" cy="68.3" r="1.2"/>
<circle cx="196.5" cy="81.7" r="1.2"/>
<circle cx="221.0" cy="68.4" r="1.2"/>
<circle cx="196.2" cy="85.0" r="1.2"/>
<circle cx="227.3" cy="95.1" r="1.2"/>
<circle cx="197.2" cy="77.7" r="1.2"/>
<circle cx="230.3" cy="75.5" r="1.2"/>
<circle cx="201.9" cy="94.3" r="1.2"/>
<circle cx="219.0" cy="101.1" r="1.2"/>
<circle cx="222.9" cy="71.1" r="1.2"/>
<circle cx="203.1" cy="71.8" r="1.2"/>
<circle cx="199.2" cy="96.1" r="1.2"/>
<circle cx="196.4" cy="86.0" r="1.2"/>
<circle cx="217.3" cy="69.0" r="1.2"/>
<circle cx="207.2" cy="100.4" r="1.2"/>
<circle cx="218.5" cy="70.3" r="1.2"/>
<circle cx="217.0" cy="70.5" r="1.2"/>
<circle cx="214.6" cy="99.0" r="1.2"/>
<circle cx="213.5" cy="102.4" r="1.2"/>
<circle cx="197.0" cy="80.0" r="1.2"/>
<circle cx="196.5" cy="90.9" r="1.2"/>
<circle cx="224.6" cy="98.5" r="1.2"/>
<circle cx="223.7" cy="70.8" r="1.2"/>
<circle cx="195.0" cy="83.0" r="1.2"/>
<circle cx="216.6" cy="67.8" r="1.2"/>
<circle cx="200.4" cy="71.8" r="1.2"/>
<circle cx="230.3" cy="95.0" r="1.2"/>
<circle cx="198.2" cy="74.5" r="1.2"/>
<circle cx="197.1" cy="93.3" r="1.2"/>
<circle cx="209.3" cy="100.9" r="1.2"/>
<circle cx="214.0" cy="68.5" r="1.2"/>
<circle cx="225.7" cy="69.0" r="1.2"/>
<circle cx="204.8" cy="70.1" r="1.2"/>
<circle cx="214.0" cy="100.1" r="1.2"/>
<circle cx="230.9" cy="75.6" r="1.2"/>
<circle cx="229.8" cy="75.6" r="1.2"/>
<circle cx="212.1" cy="99.8" r="1.2"/>
<circle cx="195.4" cy="81.7" r="1.2"/>
<circle cx="197.9" cy="89.3" r="1.2"/>
<circle cx="198.6" cy="92.7" r="1.2"/>
<circle cx="200.4" cy="74.7" r="1.2"/>
<circle cx="224.3" cy="100.6" r="1.2"/>
<circle cx="202.4" cy="95.6" r="1.2"/>
<circle cx="198.2" cy="78.2" r="1.2"/>
<circle cx="230.6" cy="94.0" r="1.2"/>
<circle cx="220.0" cy="100.2" r="1.2"/>
<circle cx="226.7" cy="98.2" r="1.2"/>
<circle cx="197.2" cy="84.0" r="1.2"/>
<circle cx="227.9" cy="97.0" r="1.2"/>
<circle cx="229.1" cy="79.4" r="1.2"/>
<circle cx="218.5" cy="68.4" r="1.2"/>
<circle cx="207.1" cy="70.4" r="1.2"/>
<circle cx="218.6" cy="102.6" r="1.2"/>
<circle cx="203.7" cy="97.2" r="1.2"/>
<circle cx="221.8" cy="71.0" r="1.2"/>
<circle cx="203.0" cy="72.7" r="1.2"/>
<circle cx="230.8" cy="80.6" r="1.2"/>
<circle cx="205.5" cy="98.5" r="1.2"/>
<circle cx="229.6" cy="96.8" r="1.2"/>
<circle cx="230.8" cy="89.8" r="1.2"/>
<circle cx="221.6" cy="71.2" r="1.2"/>
<circle cx="209.5" cy="69.4" r="1.2"/>
<circle cx="204.9" cy="69.0" r="1.2"/>
<circle cx="204.2" cy="99.5" r="1.2"/>
</g>
<g fill="#3a86c6" stroke="#2b6ca8" stroke-width="0.3">
<circle cx="219.4" cy="60.4" r="1.2"/>
<circle cx="220.3" cy="60.1" r="1.2"/>
<circle cx="216.5" cy="58.9" r="1.2"/>
<circle cx="220.6" cy="63.7" r="1.2"/>
<circle cx="216.2" cy="60.8" r="1.2"/>
<circle cx="217.5" cy="61.9" r="1.2"/>
<circle cx="219.6" cy="61.6" r="1.2"/>
<circle cx="218.5" cy="58.1" r="1.2"/>
<circle cx="216.6" cy="57.5" r="1.2"/>
<circle cx="222.1" cy="64.5" r="1.2"/>
<circle cx="219.3" cy="63.9" r="1.2"/>
<circle cx="222.6" cy="63.5" r="1.2"/>
<circle cx="213.3" cy="61.0" r="1.2"/>
<circle cx="211.3" cy="59.6" r="1.2"/>
<circle cx="214.2" cy="61.4" r="1.2"/>
<circle cx="218.4" cy="59.4" r="1.2"/>
<circle cx="216.7" cy="62.0" r="1.2"/>
<circle cx="217.0" cy="61.0" r="1.2"/>
<circle cx="227.6" cy="63.5" r="1.2"/>
<circle cx="234.0" cy="65.0" r="1.2"/>
<circle cx="229.5" cy="63.8" r="1.2"/>
<circle cx="233.0" cy="62.3" r="1.2"/>
<circle cx="233.8" cy="62.7" r="1.2"/>
<circle cx="231.8" cy="64.2" r="1.2"/>
<circle cx="236.9" cy="63.7" r="1.2"/>
<circle cx="231.3" cy="66.0" r="1.2"/>
<circle cx="231.5" cy="64.8" r="1.2"/>
<circle cx="227.9" cy="65.1" r="1.2"/>
<circle cx="232.4" cy="61.6" r="1.2"/>
<circle cx="227.8" cy="63.4" r="1.2"/>
<circle cx="223.9" cy="61.3" r="1.2"/>
<circle cx="220.3" cy="62.8" r="1.2"/>
<circle cx="220.6" cy="64.9" r="1.2"/>
<circle cx="226.6" cy="62.7" r="1.2"/>
<circle cx="220.4" cy="63.1" r="1.2"/>
<circle cx="221.8" cy="64.3" r="1.2"/>
<circle cx="234.7" cy="70.6" r="1.2"/>
<circle cx="234.6" cy="75.0" r="1.2"/>
<circle cx="237.0" cy="70.3" r="1.2"/>
<circle cx="235.5" cy="71.2" r="1.2"/>
<circle cx="232.9" cy="75.7" r="1.2"/>
<circle cx="235.0" cy="72.3" r="1.2"/>
<circle cx="235.0" cy="71.4" r="1.2"/>
<circle cx="213.4" cy="68.2" r="1.2"/>
<circle cx="225.2" cy="66.7" r="1.2"/>
<circle cx="225.5" cy="67.7" r="1.2"/>
<circle cx="218.6" cy="67.0" r="1.2"/>
<circle cx="217.8" cy="67.1" r="1.2"/>
<circle cx="218.2" cy="68.9" r="1.2"/>
<circle cx="217.6" cy="67.0" r="1.2"/>
<circle cx="222.5" cy="66.1" r="1.2"/>
<circle cx="225.4" cy="66.4" r="1.2"/>
<circle cx="217.3" cy="66.5" r="1.2"/>
<circle cx="215.2" cy="67.7" r="1.2"/>
<circle cx="223.5" cy="67.4" r="1.2"/>
<circle cx="211.6" cy="103.3" r="1.2"/>
<circle cx="215.1" cy="103.1" r="1.2"/>
<circle cx="227.4" cy="103.3" r="1.2"/>
<circle cx="218.7" cy="104.4" r="1.2"/>
<circle cx="225.8" cy="105.3" r="1.2"/>
<circle cx="208.6" cy="103.4" r="1.2"/>
<circle cx="217.3" cy="101.8" r="1.2"/>
<circle cx="220.4" cy="101.4" r="1.2"/>
<circle cx="206.4" cy="101.8" r="1.2"/>
<circle cx="218.2" cy="105.4" r="1.2"/>
<circle cx="215.4" cy="101.4" r="1.2"/>
<circle cx="207.9" cy="102.5" r="1.2"/>
<circle cx="218.3" cy="103.1" r="1.2"/>
<circle cx="211.1" cy="102.0" r="1.2"/>
<circle cx="206.1" cy="103.2" r="1.2"/>
<circle cx="210.3" cy="99.4" r="1.2"/>
<circle cx="226.7" cy="103.6" r="1.2"/>
<circle cx="221.9" cy="103.4" r="1.2"/>
<circle cx="230.3" cy="95.2" r="1.2"/>
<circle cx="230.3" cy="101.1" r="1.2"/>
<circle cx="232.3" cy="74.8" r="1.2"/>
<circle cx="233.3" cy="101.5" r="1.2"/>
<circle cx="231.5" cy="95.2" r="1.2"/>
<circle cx="231.6" cy="83.3" r="1.2"/>
<circle cx="227.8" cy="96.4" r="1.2"/>
<circle cx="231.2" cy="90.4" r="1.2"/>
<circle cx="230.1" cy="81.4" r="1.2"/>
<circle cx="233.7" cy="85.0" r="1.2"/>
<circle cx="231.3" cy="78.9" r="1.2"/>
<circle cx="232.3" cy="93.2" r="1.2"/>
<circle cx="231.2" cy="86.4" r="1.2"/>
<circle cx="223.2" cy="71.6" r="1.2"/>
<circle cx="225.0" cy="69.8" r="1.2"/>
<circle cx="231.9" cy="69.7" r="1.2"/>
<circle cx="222.2" cy="68.8" r="1.2"/>
<circle cx="225.8" cy="72.1" r="1.2"/>
<circle cx="227.6" cy="69.7" r="1.2"/>
<circle cx="229.4" cy="71.5" r="1.2"/>
</g>
<g fill="#ffffff" opacity="0.85">
<circle cx="229.6" cy="82.2" r="0.75"/>
<circle cx="228.4" cy="70.8" r="0.75"/>
<circle cx="220.5" cy="70.6" r="0.75"/>
<circle cx="226.0" cy="96.5" r="0.75"/>
<circle cx="223.5" cy="99.8" r="0.75"/>
<circle cx="216.5" cy="100.6" r="0.75"/>
<circle cx="229.0" cy="91.0" r="0.75"/>
<circle cx="213.0" cy="70.2" r="0.75"/>
<circle cx="225.5" cy="73.5" r="0.75"/>
</g>
<g fill="#3079ba" stroke="#1d5288" stroke-width="0.45">
<circle cx="222.6" cy="48.0" r="1.25"/>
<circle cx="223.3" cy="50.2" r="1.25"/>
<circle cx="223.8" cy="51.6" r="1.25"/>
<circle cx="224.2" cy="53.1" r="1.25"/>
<circle cx="237.2" cy="50.8" r="1.25"/>
<circle cx="217.5" cy="55.5" r="1.25"/>
<circle cx="214.1" cy="56.9" r="1.25"/>
<circle cx="213.4" cy="56.7" r="1.25"/>
<circle cx="217.1" cy="55.7" r="1.25"/>
<circle cx="222.8" cy="56.4" r="1.25"/>
<circle cx="231.0" cy="56.9" r="1.25"/>
<circle cx="225.2" cy="58.8" r="1.25"/>
<circle cx="225.7" cy="60.1" r="1.25"/>
<circle cx="225.0" cy="61.5" r="1.25"/>
<circle cx="228.6" cy="59.8" r="1.25"/>
<circle cx="233.8" cy="60.3" r="1.25"/>
<circle cx="235.3" cy="60.8" r="1.25"/>
<circle cx="208.8" cy="65.6" r="1.25"/>
<circle cx="241.5" cy="66.5" r="1.25"/>
<circle cx="242.0" cy="68.4" r="1.25"/>
<circle cx="253.6" cy="68.4" r="1.25"/>
<circle cx="238.0" cy="72.8" r="1.25"/>
<circle cx="240.8" cy="76.9" r="1.25"/>
<circle cx="236.0" cy="75.5" r="1.25"/>
<circle cx="253.5" cy="68.9" r="1.25"/>
<circle cx="241.4" cy="67.5" r="1.25"/>
<circle cx="242.1" cy="70.3" r="1.25"/>
<circle cx="241.4" cy="76.4" r="1.25"/>
<circle cx="247.6" cy="76.4" r="1.25"/>
<circle cx="238.7" cy="73.7" r="1.25"/>
<circle cx="239.4" cy="78.5" r="1.25"/>
<circle cx="245.5" cy="84.7" r="1.25"/>
<circle cx="257.9" cy="88.1" r="1.25"/>
<circle cx="249.7" cy="88.8" r="1.25"/>
<circle cx="246.9" cy="91.5" r="1.25"/>
<circle cx="236.6" cy="91.5" r="1.25"/>
<circle cx="239.4" cy="91.5" r="1.25"/>
<circle cx="276.4" cy="92.9" r="1.25"/>
<circle cx="239.4" cy="100.4" r="1.25"/>
<circle cx="244.2" cy="99.0" r="1.25"/>
<circle cx="246.9" cy="100.4" r="1.25"/>
<circle cx="250.3" cy="98.4" r="1.25"/>
<circle cx="256.5" cy="102.5" r="1.25"/>
<circle cx="240.0" cy="104.5" r="1.25"/>
<circle cx="238.7" cy="84.0" r="1.25"/>
<circle cx="233.0" cy="91.3" r="1.25"/>
<circle cx="247.2" cy="91.7" r="1.25"/>
<circle cx="234.2" cy="95.8" r="1.25"/>
<circle cx="236.0" cy="80.0" r="1.25"/>
<circle cx="235.0" cy="86.0" r="1.25"/>
<circle cx="199.0" cy="97.1" r="1.25"/>
<circle cx="212.3" cy="106.0" r="1.25"/>
<circle cx="215.8" cy="106.5" r="1.25"/>
<circle cx="219.8" cy="107.1" r="1.25"/>
<circle cx="219.8" cy="109.8" r="1.25"/>
<circle cx="225.2" cy="106.5" r="1.25"/>
<circle cx="230.8" cy="106.0" r="1.25"/>
<circle cx="214.6" cy="112.9" r="1.25"/>
<circle cx="223.6" cy="113.2" r="1.25"/>
<circle cx="227.5" cy="113.2" r="1.25"/>
<circle cx="232.2" cy="112.3" r="1.25"/>
<circle cx="236.0" cy="114.6" r="1.25"/>
<circle cx="252.5" cy="113.5" r="1.25"/>
<circle cx="220.6" cy="119.2" r="1.25"/>
<circle cx="221.5" cy="122.5" r="1.25"/>
<circle cx="243.5" cy="124.1" r="1.25"/>
<circle cx="210.8" cy="127.5" r="1.25"/>
<circle cx="238.3" cy="132.2" r="1.25"/>
<circle cx="192.2" cy="76.4" r="1.25"/>
<circle cx="192.2" cy="81.9" r="1.25"/>
<circle cx="196.3" cy="92.2" r="1.25"/>
<circle cx="199.0" cy="96.7" r="1.25"/>
<circle cx="208.6" cy="66.2" r="1.25"/>
<circle cx="210.0" cy="106.0" r="1.25"/>
<circle cx="217.0" cy="105.5" r="1.25"/>
<circle cx="223.0" cy="105.8" r="1.25"/>
<circle cx="228.0" cy="105.2" r="1.25"/>
<circle cx="205.0" cy="101.5" r="1.25"/>
<circle cx="201.5" cy="99.0" r="1.25"/>
</g>
<line x1="189.00" y1="65.50" x2="279.70" y2="65.50" stroke="#333" stroke-width="0.9" />
<line x1="189.00" y1="104.50" x2="279.70" y2="104.50" stroke="#333" stroke-width="0.9" />
<line x1="189.00" y1="85.30" x2="279.70" y2="85.30" stroke="#1a1a1a" stroke-width="0.9" />
<line x1="189.00" y1="85.30" x2="279.70" y2="85.30" stroke="#8a2030" stroke-width="0.9" stroke-dasharray="4.6 5.3" stroke-dashoffset="0.8"/>
<g fill="#2c5a8c" stroke="#1c3558" stroke-width="0.5">
</g>
<path d="M189.0,44.6 V135.1 H279.7" fill="none" stroke="#505050" stroke-width="1"/>
<line x1="190.60" y1="135.10" x2="190.60" y2="140.30" stroke="#505050" stroke-width="1" />
<text x="190.60" y="154.00" font-size="8.5" text-anchor="middle" font-weight="normal" fill="#000" >0</text>
<line x1="213.70" y1="135.10" x2="213.70" y2="140.30" stroke="#505050" stroke-width="1" />
<text x="213.70" y="154.00" font-size="8.5" text-anchor="middle" font-weight="normal" fill="#000" >2</text>
<line x1="236.80" y1="135.10" x2="236.80" y2="140.30" stroke="#505050" stroke-width="1" />
<text x="236.80" y="154.00" font-size="8.5" text-anchor="middle" font-weight="normal" fill="#000" >4</text>
<line x1="259.90" y1="135.10" x2="259.90" y2="140.30" stroke="#505050" stroke-width="1" />
<text x="259.90" y="154.00" font-size="8.5" text-anchor="middle" font-weight="normal" fill="#000" >6</text>
<line x1="184.00" y1="62.70" x2="189.00" y2="62.70" stroke="#505050" stroke-width="1" />
<text transform="translate(177.10,63.40) rotate(-90)" font-size="8.5" text-anchor="middle" font-weight="normal" fill="#000" >0.1</text>
<line x1="184.00" y1="85.00" x2="189.00" y2="85.00" stroke="#505050" stroke-width="1" />
<text transform="translate(177.10,85.00) rotate(-90)" font-size="8.5" text-anchor="middle" font-weight="normal" fill="#000" >0.0</text>
<line x1="184.00" y1="107.30" x2="189.00" y2="107.30" stroke="#505050" stroke-width="1" />
<line x1="184.00" y1="129.60" x2="189.00" y2="129.60" stroke="#505050" stroke-width="1" />
<text transform="translate(177.10,129.60) rotate(-90)" font-size="8.5" text-anchor="middle" font-weight="normal" fill="#000" >−0.2</text>
<text x="266.90" y="154.00" font-size="8.5">×<tspan dx="1.5">10</tspan><tspan font-size="5.8" dy="-4.5" dx="0.9">8</tspan></text>
<text transform="translate(177.10,58.30) rotate(-90)" font-size="8.5">×<tspan dx="1.5">10</tspan><tspan font-size="5.8" dy="-4.5" dx="0.9">8</tspan></text>
<text x="271.00" y="63.20" font-size="8.5" text-anchor="middle" font-weight="normal" fill="#000" >+1.96 SD</text>
<text x="271.00" y="82.90" font-size="8.5" text-anchor="middle" font-weight="normal" fill="#000" >Mean</text>
<text x="271.50" y="102.30" font-size="8.5" text-anchor="middle" font-weight="normal" fill="#000" >−1.96 SD</text>
<text x="234.20" y="224.10" font-size="10.1" text-anchor="middle" font-weight="bold" fill="#000" >Bland−Altman</text>
<text transform="translate(161.60,281.20) rotate(-90)" font-size="10.1" text-anchor="middle" font-weight="normal" fill="#000" >Automated − lineshape fitting</text>
<text x="247.40" y="359.50" font-size="10.1" text-anchor="middle" font-weight="normal" fill="#000" >Mean</text>
<rect x="191.1" y="265.5" width="2.8" height="55" fill="#3a86c6"/>
<line x1="193.6" y1="265.5" x2="193.6" y2="320.5" stroke="#2a6aa6" stroke-width="0.6"/>
<g fill="#3a86c6">
<circle cx="193.6" cy="276.6" r="0.9"/>
<circle cx="191.5" cy="312.1" r="0.9"/>
<circle cx="191.8" cy="287.0" r="0.9"/>
<circle cx="191.7" cy="275.1" r="0.9"/>
<circle cx="191.5" cy="308.5" r="0.9"/>
<circle cx="193.3" cy="317.6" r="0.9"/>
<circle cx="193.6" cy="316.3" r="0.9"/>
<circle cx="193.6" cy="280.0" r="0.9"/>
<circle cx="191.5" cy="301.8" r="0.9"/>
<circle cx="193.2" cy="278.2" r="0.9"/>
<circle cx="191.4" cy="319.9" r="0.9"/>
<circle cx="191.6" cy="302.5" r="0.9"/>
<circle cx="191.6" cy="265.5" r="0.9"/>
<circle cx="193.2" cy="311.2" r="0.9"/>
<circle cx="193.6" cy="313.7" r="0.9"/>
<circle cx="193.5" cy="270.0" r="0.9"/>
<circle cx="191.8" cy="298.6" r="0.9"/>
<circle cx="193.5" cy="292.5" r="0.9"/>
<circle cx="193.3" cy="305.5" r="0.9"/>
<circle cx="191.7" cy="318.1" r="0.9"/>
<circle cx="193.4" cy="287.3" r="0.9"/>
<circle cx="191.3" cy="298.4" r="0.9"/>
<circle cx="193.6" cy="293.2" r="0.9"/>
<circle cx="193.4" cy="309.0" r="0.9"/>
<circle cx="193.5" cy="267.1" r="0.9"/>
<circle cx="191.5" cy="319.7" r="0.9"/>
<circle cx="193.6" cy="272.2" r="0.9"/>
<circle cx="193.7" cy="269.5" r="0.9"/>
<circle cx="191.7" cy="266.8" r="0.9"/>
<circle cx="193.6" cy="319.8" r="0.9"/>
</g>
<g fill="#3079ba" stroke="#1d5288" stroke-width="0.4">
<circle cx="192.3" cy="239.5" r="1.05"/>
<circle cx="192.2" cy="246.8" r="1.05"/>
<circle cx="192.5" cy="248.6" r="1.05"/>
<circle cx="192.0" cy="250.6" r="1.05"/>
<circle cx="192.8" cy="251.8" r="1.05"/>
<circle cx="192.3" cy="253.2" r="1.05"/>
<circle cx="192.4" cy="257.5" r="1.05"/>
<circle cx="192.0" cy="259.4" r="1.05"/>
<circle cx="192.8" cy="260.8" r="1.05"/>
<circle cx="192.3" cy="262.6" r="1.05"/>
<circle cx="192.5" cy="264.5" r="1.05"/>
<circle cx="194.6" cy="286.5" r="1.05"/>
<circle cx="194.8" cy="289.0" r="1.05"/>
<circle cx="192.3" cy="323.6" r="1.05"/>
<circle cx="194.4" cy="275.4" r="1.05"/>
</g>
<g fill="#3079ba" stroke="#1d5288" stroke-width="0.45">
</g>
<line x1="189.00" y1="275.40" x2="279.70" y2="275.40" stroke="#333" stroke-width="0.9" />
<line x1="189.00" y1="310.30" x2="279.70" y2="310.30" stroke="#333" stroke-width="0.9" />
<line x1="189.00" y1="292.90" x2="279.70" y2="292.90" stroke="#a3a9b0" stroke-width="1.6" />
<line x1="189.00" y1="292.90" x2="279.70" y2="292.90" stroke="#b44454" stroke-width="1.5" stroke-dasharray="4.6 5.4" stroke-dashoffset="0.5"/>
<g fill="#2c5a8c" stroke="#1c3558" stroke-width="0.5">
<circle cx="217.1" cy="292.9" r="1.2"/>
<circle cx="218.3" cy="292.9" r="1.2"/>
<circle cx="243.6" cy="292.9" r="1.2"/>
<circle cx="276.6" cy="292.9" r="1.2"/>
<circle cx="195.6" cy="292.9" r="1.2"/>
<circle cx="192.5" cy="310.3" r="1.2"/>
<circle cx="193.6" cy="275.4" r="1.2"/>
</g>
<path d="M189.0,235.6 V326.1 H279.7" fill="none" stroke="#505050" stroke-width="1"/>
<line x1="192.30" y1="326.10" x2="192.30" y2="331.30" stroke="#505050" stroke-width="1" />
<text x="192.30" y="345.00" font-size="8.5" text-anchor="middle" font-weight="normal" fill="#000" >0</text>
<line x1="210.00" y1="326.10" x2="210.00" y2="331.30" stroke="#505050" stroke-width="1" />
<text x="210.00" y="345.00" font-size="8.5" text-anchor="middle" font-weight="normal" fill="#000" >5</text>
<line x1="227.70" y1="326.10" x2="227.70" y2="331.30" stroke="#505050" stroke-width="1" />
<text x="227.70" y="345.00" font-size="8.5" text-anchor="middle" font-weight="normal" fill="#000" >10</text>
<line x1="245.40" y1="326.10" x2="245.40" y2="331.30" stroke="#505050" stroke-width="1" />
<text x="245.40" y="345.00" font-size="8.5" text-anchor="middle" font-weight="normal" fill="#000" >15</text>
<line x1="263.10" y1="326.10" x2="263.10" y2="331.30" stroke="#505050" stroke-width="1" />
<text x="263.10" y="345.00" font-size="8.5" text-anchor="middle" font-weight="normal" fill="#000" >20</text>
<line x1="184.00" y1="247.20" x2="189.00" y2="247.20" stroke="#505050" stroke-width="1" />
<line x1="184.00" y1="269.90" x2="189.00" y2="269.90" stroke="#505050" stroke-width="1" />
<text transform="translate(177.10,269.90) rotate(-90)" font-size="8.5" text-anchor="middle" font-weight="normal" fill="#000" >0.005</text>
<line x1="184.00" y1="292.60" x2="189.00" y2="292.60" stroke="#505050" stroke-width="1" />
<line x1="184.00" y1="315.30" x2="189.00" y2="315.30" stroke="#505050" stroke-width="1" />
<text transform="translate(177.10,315.30) rotate(-90)" font-size="8.5" text-anchor="middle" font-weight="normal" fill="#000" >−0.005</text>
<text x="267.30" y="345.00" font-size="8.5">×<tspan dx="1.5">10</tspan><tspan font-size="5.8" dy="-4.5" dx="0.9">8</tspan></text>
<text transform="translate(177.10,246.80) rotate(-90)" font-size="8.5">×<tspan dx="1.5">10</tspan><tspan font-size="5.8" dy="-4.5" dx="0.9">8</tspan></text>
<text x="271.00" y="273.10" font-size="8.5" text-anchor="middle" font-weight="normal" fill="#000" >+1.96 SD</text>
<text x="271.00" y="290.50" font-size="8.5" text-anchor="middle" font-weight="normal" fill="#000" >Mean</text>
<text x="271.50" y="308.10" font-size="8.5" text-anchor="middle" font-weight="normal" fill="#000" >−1.96 SD</text>
<line x1="303.20" y1="-0.10" x2="303.20" y2="365.00" stroke="#2a2a2a" stroke-width="1.2" stroke-dasharray="3.3 2.285"/>
<text x="427.60" y="55.50" font-size="12.4" text-anchor="middle" font-weight="normal" fill="#000" textLength="117" lengthAdjust="spacingAndGlyphs" style="stroke-width:0.25px">Glucose distribution</text>
<text x="427.60" y="72.80" font-size="12.4" text-anchor="middle" font-weight="normal" fill="#000" textLength="59" lengthAdjust="spacingAndGlyphs" style="stroke-width:0.25px">in NFBC66</text>
<text x="427.60" y="89.90" font-size="12.4" text-anchor="middle" font-weight="normal" fill="#000" textLength="63.4" lengthAdjust="spacingAndGlyphs" style="stroke-width:0.25px">(N = 4,548)</text>
<g fill="#fbf1fb">
<rect x="356" y="250.79" width="1" height="0.41"/>
<rect x="358" y="250.38" width="1" height="0.82"/>
<rect x="360" y="250.79" width="1" height="0.41"/>
<rect x="362" y="250.38" width="1" height="0.82"/>
<rect x="364" y="250.79" width="1" height="0.41"/>
<rect x="366" y="250.38" width="1" height="0.82"/>
<rect x="368" y="250.38" width="1" height="0.82"/>
<rect x="370" y="249.96" width="1" height="1.24"/>
<rect x="372" y="250.38" width="1" height="0.82"/>
<rect x="374" y="250.79" width="1" height="0.41"/>
<rect x="376" y="249.14" width="1" height="2.06"/>
<rect x="378" y="247.08" width="1" height="4.12"/>
<rect x="380" y="245.43" width="1" height="5.77"/>
<rect x="382" y="239.66" width="1" height="11.54"/>
<rect x="384" y="228.52" width="1" height="22.68"/>
<rect x="386" y="216.15" width="1" height="35.05"/>
<rect x="388" y="207.91" width="1" height="43.29"/>
<rect x="390" y="187.29" width="1" height="63.91"/>
<rect x="392" y="167.92" width="1" height="83.28"/>
<rect x="394" y="151.42" width="1" height="99.78"/>
<rect x="396" y="144.41" width="1" height="106.79"/>
<rect x="398" y="140.70" width="1" height="110.50"/>
<rect x="400" y="126.69" width="1" height="124.51"/>
<rect x="402" y="133.28" width="1" height="117.92"/>
<rect x="404" y="140.29" width="1" height="110.91"/>
<rect x="406" y="144.41" width="1" height="106.79"/>
<rect x="408" y="151.42" width="1" height="99.78"/>
<rect x="410" y="158.02" width="1" height="93.18"/>
<rect x="412" y="170.80" width="1" height="80.40"/>
<rect x="414" y="179.05" width="1" height="72.15"/>
<rect x="416" y="187.29" width="1" height="63.91"/>
<rect x="418" y="207.91" width="1" height="43.29"/>
<rect x="420" y="205.43" width="1" height="45.77"/>
<rect x="422" y="211.21" width="1" height="39.99"/>
<rect x="424" y="221.93" width="1" height="29.27"/>
<rect x="426" y="219.45" width="1" height="31.75"/>
<rect x="428" y="231.41" width="1" height="19.79"/>
<rect x="430" y="237.59" width="1" height="13.61"/>
<rect x="432" y="231.00" width="1" height="20.20"/>
<rect x="434" y="237.59" width="1" height="13.61"/>
<rect x="436" y="236.36" width="1" height="14.84"/>
<rect x="438" y="241.30" width="1" height="9.90"/>
<rect x="440" y="241.30" width="1" height="9.90"/>
<rect x="442" y="244.60" width="1" height="6.60"/>
<rect x="444" y="245.84" width="1" height="5.36"/>
<rect x="446" y="242.95" width="1" height="8.25"/>
<rect x="448" y="248.31" width="1" height="2.89"/>
<rect x="450" y="243.78" width="1" height="7.42"/>
<rect x="452" y="246.66" width="1" height="4.54"/>
<rect x="454" y="248.31" width="1" height="2.89"/>
<rect x="456" y="249.14" width="1" height="2.06"/>
<rect x="458" y="247.08" width="1" height="4.12"/>
<rect x="460" y="249.14" width="1" height="2.06"/>
<rect x="462" y="248.31" width="1" height="2.89"/>
<rect x="464" y="248.73" width="1" height="2.47"/>
<rect x="466" y="248.31" width="1" height="2.89"/>
<rect x="468" y="249.96" width="1" height="1.24"/>
<rect x="470" y="250.38" width="1" height="0.82"/>
<rect x="472" y="248.73" width="1" height="2.47"/>
<rect x="474" y="249.96" width="1" height="1.24"/>
<rect x="476" y="250.38" width="1" height="0.82"/>
<rect x="478" y="249.55" width="1" height="1.65"/>
<rect x="480" y="250.38" width="1" height="0.82"/>
<rect x="482" y="250.79" width="1" height="0.41"/>
<rect x="484" y="249.96" width="1" height="1.24"/>
<rect x="486" y="250.79" width="1" height="0.41"/>
<rect x="490" y="250.38" width="1" height="0.82"/>
<rect x="492" y="250.79" width="1" height="0.41"/>
<rect x="494" y="250.79" width="1" height="0.41"/>
<rect x="496" y="250.38" width="1" height="0.82"/>
<rect x="500" y="250.79" width="1" height="0.41"/>
<rect x="502" y="250.79" width="1" height="0.41"/>
<rect x="504" y="250.38" width="1" height="0.82"/>
<rect x="506" y="250.79" width="1" height="0.41"/>
<rect x="510" y="250.79" width="1" height="0.41"/>
<rect x="512" y="250.38" width="1" height="0.82"/>
<rect x="514" y="250.79" width="1" height="0.41"/>
</g>
<g fill="#c0a0c8">
<rect x="355" y="250.89" width="1" height="0.81"/>
<rect x="357" y="250.48" width="1" height="1.22"/>
<rect x="359" y="250.48" width="1" height="1.22"/>
<rect x="361" y="250.48" width="1" height="1.22"/>
<rect x="363" y="250.48" width="1" height="1.22"/>
<rect x="365" y="250.48" width="1" height="1.22"/>
<rect x="367" y="250.48" width="1" height="1.22"/>
<rect x="369" y="250.06" width="1" height="1.64"/>
<rect x="371" y="250.06" width="1" height="1.64"/>
<rect x="373" y="250.48" width="1" height="1.22"/>
<rect x="375" y="249.24" width="1" height="2.46"/>
<rect x="377" y="247.18" width="1" height="4.52"/>
<rect x="379" y="245.53" width="1" height="6.17"/>
<rect x="381" y="239.76" width="1" height="11.94"/>
<rect x="383" y="228.62" width="1" height="23.08"/>
<rect x="385" y="216.25" width="1" height="35.45"/>
<rect x="387" y="208.01" width="1" height="43.69"/>
<rect x="389" y="187.39" width="1" height="64.31"/>
<rect x="391" y="168.02" width="1" height="83.68"/>
<rect x="393" y="151.52" width="1" height="100.18"/>
<rect x="395" y="144.51" width="1" height="107.19"/>
<rect x="397" y="140.80" width="1" height="110.90"/>
<rect x="399" y="126.79" width="1" height="124.91"/>
<rect x="401" y="126.79" width="1" height="124.91"/>
<rect x="403" y="133.38" width="1" height="118.32"/>
<rect x="405" y="140.39" width="1" height="111.31"/>
<rect x="407" y="144.51" width="1" height="107.19"/>
<rect x="409" y="151.52" width="1" height="100.18"/>
<rect x="411" y="158.12" width="1" height="93.58"/>
<rect x="413" y="170.90" width="1" height="80.80"/>
<rect x="415" y="179.15" width="1" height="72.55"/>
<rect x="417" y="187.39" width="1" height="64.31"/>
<rect x="419" y="205.53" width="1" height="46.17"/>
<rect x="421" y="205.53" width="1" height="46.17"/>
<rect x="423" y="211.31" width="1" height="40.39"/>
<rect x="425" y="219.55" width="1" height="32.15"/>
<rect x="427" y="219.55" width="1" height="32.15"/>
<rect x="429" y="231.51" width="1" height="20.19"/>
<rect x="431" y="231.10" width="1" height="20.60"/>
<rect x="433" y="231.10" width="1" height="20.60"/>
<rect x="435" y="236.46" width="1" height="15.24"/>
<rect x="437" y="236.46" width="1" height="15.24"/>
<rect x="439" y="241.40" width="1" height="10.30"/>
<rect x="441" y="241.40" width="1" height="10.30"/>
<rect x="443" y="244.70" width="1" height="7.00"/>
<rect x="445" y="243.05" width="1" height="8.65"/>
<rect x="447" y="243.05" width="1" height="8.65"/>
<rect x="449" y="243.88" width="1" height="7.82"/>
<rect x="451" y="243.88" width="1" height="7.82"/>
<rect x="453" y="246.76" width="1" height="4.94"/>
<rect x="455" y="248.41" width="1" height="3.29"/>
<rect x="457" y="247.18" width="1" height="4.52"/>
<rect x="459" y="247.18" width="1" height="4.52"/>
<rect x="461" y="248.41" width="1" height="3.29"/>
<rect x="463" y="248.41" width="1" height="3.29"/>
<rect x="465" y="248.41" width="1" height="3.29"/>
<rect x="467" y="248.41" width="1" height="3.29"/>
<rect x="469" y="250.06" width="1" height="1.64"/>
<rect x="471" y="248.83" width="1" height="2.87"/>
<rect x="473" y="248.83" width="1" height="2.87"/>
<rect x="475" y="250.06" width="1" height="1.64"/>
<rect x="477" y="249.65" width="1" height="2.05"/>
<rect x="479" y="249.65" width="1" height="2.05"/>
<rect x="481" y="250.48" width="1" height="1.22"/>
<rect x="483" y="250.06" width="1" height="1.64"/>
<rect x="485" y="250.06" width="1" height="1.64"/>
<rect x="487" y="250.89" width="1" height="0.81"/>
<rect x="489" y="250.48" width="1" height="1.22"/>
<rect x="491" y="250.48" width="1" height="1.22"/>
<rect x="493" y="250.89" width="1" height="0.81"/>
<rect x="495" y="250.48" width="1" height="1.22"/>
<rect x="497" y="250.48" width="1" height="1.22"/>
<rect x="499" y="250.89" width="1" height="0.81"/>
<rect x="501" y="250.89" width="1" height="0.81"/>
<rect x="503" y="250.48" width="1" height="1.22"/>
<rect x="505" y="250.48" width="1" height="1.22"/>
<rect x="507" y="250.89" width="1" height="0.81"/>
<rect x="509" y="250.89" width="1" height="0.81"/>
<rect x="511" y="250.48" width="1" height="1.22"/>
<rect x="513" y="250.48" width="1" height="1.22"/>
<rect x="515" y="250.89" width="1" height="0.81"/>
<rect x="355" y="250.89" width="3" height="1"/>
<rect x="357" y="250.48" width="3" height="1"/>
<rect x="359" y="250.89" width="3" height="1"/>
<rect x="361" y="250.48" width="3" height="1"/>
<rect x="363" y="250.89" width="3" height="1"/>
<rect x="365" y="250.48" width="3" height="1"/>
<rect x="367" y="250.48" width="3" height="1"/>
<rect x="369" y="250.06" width="3" height="1"/>
<rect x="371" y="250.48" width="3" height="1"/>
<rect x="373" y="250.89" width="3" height="1"/>
<rect x="375" y="249.24" width="3" height="1"/>
<rect x="377" y="247.18" width="3" height="1"/>
<rect x="379" y="245.53" width="3" height="1"/>
<rect x="381" y="239.76" width="3" height="1"/>
<rect x="383" y="228.62" width="3" height="1"/>
<rect x="385" y="216.25" width="3" height="1"/>
<rect x="387" y="208.01" width="3" height="1"/>
<rect x="389" y="187.39" width="3" height="1"/>
<rect x="391" y="168.02" width="3" height="1"/>
<rect x="393" y="151.52" width="3" height="1"/>
<rect x="395" y="144.51" width="3" height="1"/>
<rect x="397" y="140.80" width="3" height="1"/>
<rect x="399" y="126.79" width="3" height="1"/>
<rect x="401" y="133.38" width="3" height="1"/>
<rect x="403" y="140.39" width="3" height="1"/>
<rect x="405" y="144.51" width="3" height="1"/>
<rect x="407" y="151.52" width="3" height="1"/>
<rect x="409" y="158.12" width="3" height="1"/>
<rect x="411" y="170.90" width="3" height="1"/>
<rect x="413" y="179.15" width="3" height="1"/>
<rect x="415" y="187.39" width="3" height="1"/>
<rect x="417" y="208.01" width="3" height="1"/>
<rect x="419" y="205.53" width="3" height="1"/>
<rect x="421" y="211.31" width="3" height="1"/>
<rect x="423" y="222.03" width="3" height="1"/>
<rect x="425" y="219.55" width="3" height="1"/>
<rect x="427" y="231.51" width="3" height="1"/>
<rect x="429" y="237.69" width="3" height="1"/>
<rect x="431" y="231.10" width="3" height="1"/>
<rect x="433" y="237.69" width="3" height="1"/>
<rect x="435" y="236.46" width="3" height="1"/>
<rect x="437" y="241.40" width="3" height="1"/>
<rect x="439" y="241.40" width="3" height="1"/>
<rect x="441" y="244.70" width="3" height="1"/>
<rect x="443" y="245.94" width="3" height="1"/>
<rect x="445" y="243.05" width="3" height="1"/>
<rect x="447" y="248.41" width="3" height="1"/>
<rect x="449" y="243.88" width="3" height="1"/>
<rect x="451" y="246.76" width="3" height="1"/>
<rect x="453" y="248.41" width="3" height="1"/>
<rect x="455" y="249.24" width="3" height="1"/>
<rect x="457" y="247.18" width="3" height="1"/>
<rect x="459" y="249.24" width="3" height="1"/>
<rect x="461" y="248.41" width="3" height="1"/>
<rect x="463" y="248.83" width="3" height="1"/>
<rect x="465" y="248.41" width="3" height="1"/>
<rect x="467" y="250.06" width="3" height="1"/>
<rect x="469" y="250.48" width="3" height="1"/>
<rect x="471" y="248.83" width="3" height="1"/>
<rect x="473" y="250.06" width="3" height="1"/>
<rect x="475" y="250.48" width="3" height="1"/>
<rect x="477" y="249.65" width="3" height="1"/>
<rect x="479" y="250.48" width="3" height="1"/>
<rect x="481" y="250.89" width="3" height="1"/>
<rect x="483" y="250.06" width="3" height="1"/>
<rect x="485" y="250.89" width="3" height="1"/>
<rect x="489" y="250.48" width="3" height="1"/>
<rect x="491" y="250.89" width="3" height="1"/>
<rect x="493" y="250.89" width="3" height="1"/>
<rect x="495" y="250.48" width="3" height="1"/>
<rect x="499" y="250.89" width="3" height="1"/>
<rect x="501" y="250.89" width="3" height="1"/>
<rect x="503" y="250.48" width="3" height="1"/>
<rect x="505" y="250.89" width="3" height="1"/>
<rect x="509" y="250.89" width="3" height="1"/>
<rect x="511" y="250.48" width="3" height="1"/>
<rect x="513" y="250.89" width="3" height="1"/>
<rect x="355" y="250.70" width="161" height="1"/>
</g>
<line x1="349.20" y1="251.20" x2="349.20" y2="127.51" stroke="#505050" stroke-width="1" />
<line x1="343.20" y1="251.20" x2="349.20" y2="251.20" stroke="#505050" stroke-width="1" />
<line x1="343.20" y1="230.58" x2="349.20" y2="230.58" stroke="#505050" stroke-width="1" />
<line x1="343.20" y1="209.97" x2="349.20" y2="209.97" stroke="#505050" stroke-width="1" />
<line x1="343.20" y1="189.35" x2="349.20" y2="189.35" stroke="#505050" stroke-width="1" />
<line x1="343.20" y1="168.74" x2="349.20" y2="168.74" stroke="#505050" stroke-width="1" />
<line x1="343.20" y1="148.12" x2="349.20" y2="148.12" stroke="#505050" stroke-width="1" />
<line x1="343.20" y1="127.51" x2="349.20" y2="127.51" stroke="#505050" stroke-width="1" />
<text transform="translate(335.70,251.20) rotate(-90)" font-size="8.5" text-anchor="middle" font-weight="normal" fill="#000" >0</text>
<text transform="translate(335.70,230.58) rotate(-90)" font-size="8.5" text-anchor="middle" font-weight="normal" fill="#000" >50</text>
<text transform="translate(335.70,189.35) rotate(-90)" font-size="8.5" text-anchor="middle" font-weight="normal" fill="#000" >150</text>
<text transform="translate(335.70,148.12) rotate(-90)" font-size="8.5" text-anchor="middle" font-weight="normal" fill="#000" >250</text>
<text transform="translate(319.60,188.80) rotate(-90)" font-size="10.1" text-anchor="middle" font-weight="normal" fill="#000" >Frequency</text>
<line x1="356.00" y1="256.50" x2="514.72" y2="256.50" stroke="#505050" stroke-width="1" />
<line x1="356.00" y1="256.50" x2="356.00" y2="261.60" stroke="#505050" stroke-width="1" />
<text x="356.00" y="278.90" font-size="8.5" text-anchor="middle" font-weight="normal" fill="#000" >0</text>
<line x1="395.68" y1="256.50" x2="395.68" y2="261.60" stroke="#505050" stroke-width="1" />
<text x="395.68" y="278.90" font-size="8.5" text-anchor="middle" font-weight="normal" fill="#000" >20</text>
<line x1="435.36" y1="256.50" x2="435.36" y2="261.60" stroke="#505050" stroke-width="1" />
<text x="435.36" y="278.90" font-size="8.5" text-anchor="middle" font-weight="normal" fill="#000" >40</text>
<line x1="475.04" y1="256.50" x2="475.04" y2="261.60" stroke="#505050" stroke-width="1" />
<text x="475.04" y="278.90" font-size="8.5" text-anchor="middle" font-weight="normal" fill="#000" >60</text>
<line x1="514.72" y1="256.50" x2="514.72" y2="261.60" stroke="#505050" stroke-width="1" />
<text x="514.72" y="278.90" font-size="8.5" text-anchor="middle" font-weight="normal" fill="#000" >80</text>
<text x="434.30" y="296.90" font-size="10.1" text-anchor="middle" font-weight="normal" fill="#000" >Glucose</text>
<text x="434.90" y="307.80" font-size="10.1" text-anchor="middle" font-weight="normal" fill="#000" textLength="88.6" lengthAdjust="spacingAndGlyphs">(µM/mM creatinine)</text>
</svg></body></html>
